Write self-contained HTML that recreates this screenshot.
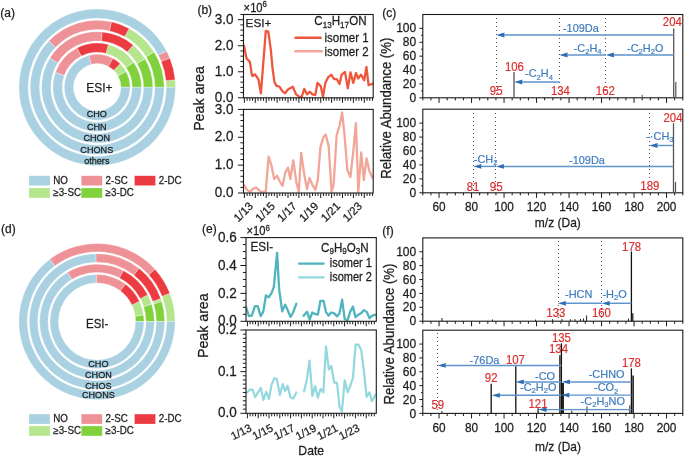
<!DOCTYPE html>
<html><head><meta charset="utf-8"><style>
html,body{margin:0;padding:0;background:#fff;}
svg{display:block;will-change:transform;}
text{font-family:"Liberation Sans", sans-serif;}
</style></head><body>
<svg width="685" height="456" viewBox="0 0 685 456">
<rect width="685" height="456" fill="#fff"/>
<text transform="translate(0.3,17.3)" font-size="12" text-anchor="start" fill="#1e1e1e" stroke="#1e1e1e" stroke-width="0.25">(a)</text>
<path d="M130.14 87.3A32.94 32.94 0 0 0 126.07 71.43L117.97 75.88A23.7 23.7 0 0 1 120.9 87.3Z" fill="#80d13c" stroke="#fff" stroke-width="0.3"/>
<path d="M126.07 71.43A32.94 32.94 0 0 0 120.21 63.73L113.75 70.34A23.7 23.7 0 0 1 117.97 75.88Z" fill="#b5e68e" stroke="#fff" stroke-width="0.3"/>
<path d="M120.21 63.73A32.94 32.94 0 0 0 112.77 58.27L108.4 66.41A23.7 23.7 0 0 1 113.75 70.34Z" fill="#ec3c42" stroke="#fff" stroke-width="0.3"/>
<path d="M112.77 58.27A32.94 32.94 0 0 0 88.79 55.45L91.15 64.39A23.7 23.7 0 0 1 108.4 66.41Z" fill="#ee9297" stroke="#fff" stroke-width="0.3"/>
<path d="M88.79 55.45A32.94 32.94 0 1 0 130.14 87.3L120.9 87.3A23.7 23.7 0 1 1 91.15 64.39Z" fill="#a9d1e2" stroke="#fff" stroke-width="0.3"/>
<path d="M141.48 87.3A44.28 44.28 0 0 0 133.65 62.16L126.04 67.4A35.04 35.04 0 0 1 132.24 87.3Z" fill="#80d13c" stroke="#fff" stroke-width="0.3"/>
<path d="M133.65 62.16A44.28 44.28 0 0 0 108.29 44.43L105.97 53.38A35.04 35.04 0 0 1 126.04 67.4Z" fill="#b5e68e" stroke="#fff" stroke-width="0.3"/>
<path d="M108.29 44.43A44.28 44.28 0 0 0 76.89 47.95L81.13 56.16A35.04 35.04 0 0 1 105.97 53.38Z" fill="#ec3c42" stroke="#fff" stroke-width="0.3"/>
<path d="M76.89 47.95A44.28 44.28 0 0 0 55.49 72.45L64.19 75.55A35.04 35.04 0 0 1 81.13 56.16Z" fill="#ee9297" stroke="#fff" stroke-width="0.3"/>
<path d="M55.49 72.45A44.28 44.28 0 1 0 141.48 87.3L132.24 87.3A35.04 35.04 0 1 1 64.19 75.55Z" fill="#a9d1e2" stroke="#fff" stroke-width="0.3"/>
<path d="M152.82 87.3A55.62 55.62 0 0 0 144.98 58.82L137.04 63.55A46.38 46.38 0 0 1 143.58 87.3Z" fill="#80d13c" stroke="#fff" stroke-width="0.3"/>
<path d="M144.98 58.82A55.62 55.62 0 0 0 133.25 44.94L127.26 51.98A46.38 46.38 0 0 1 137.04 63.55Z" fill="#b5e68e" stroke="#fff" stroke-width="0.3"/>
<path d="M133.25 44.94A55.62 55.62 0 0 0 102.05 31.89L101.24 41.1A46.38 46.38 0 0 1 127.26 51.98Z" fill="#ec3c42" stroke="#fff" stroke-width="0.3"/>
<path d="M102.05 31.89A55.62 55.62 0 0 0 49.83 58.16L57.7 63A46.38 46.38 0 0 1 101.24 41.1Z" fill="#ee9297" stroke="#fff" stroke-width="0.3"/>
<path d="M49.83 58.16A55.62 55.62 0 1 0 152.82 87.3L143.58 87.3A46.38 46.38 0 1 1 57.7 63Z" fill="#a9d1e2" stroke="#fff" stroke-width="0.3"/>
<path d="M164.16 87.3A66.96 66.96 0 0 0 154.05 51.92L146.2 56.8A57.72 57.72 0 0 1 154.92 87.3Z" fill="#80d13c" stroke="#fff" stroke-width="0.3"/>
<path d="M154.05 51.92A66.96 66.96 0 0 0 129.15 28.45L124.74 36.57A57.72 57.72 0 0 1 146.2 56.8Z" fill="#b5e68e" stroke="#fff" stroke-width="0.3"/>
<path d="M129.15 28.45A66.96 66.96 0 0 0 111.35 21.85L109.4 30.88A57.72 57.72 0 0 1 124.74 36.57Z" fill="#ec3c42" stroke="#fff" stroke-width="0.3"/>
<path d="M111.35 21.85A66.96 66.96 0 0 0 48.79 41.04L55.47 47.42A57.72 57.72 0 0 1 109.4 30.88Z" fill="#ee9297" stroke="#fff" stroke-width="0.3"/>
<path d="M48.79 41.04A66.96 66.96 0 1 0 164.16 87.3L154.92 87.3A57.72 57.72 0 1 1 55.47 47.42Z" fill="#a9d1e2" stroke="#fff" stroke-width="0.3"/>
<path d="M175.5 87.3A78.3 78.3 0 0 0 175.14 79.8L165.94 80.68A69.06 69.06 0 0 1 166.26 87.3Z" fill="#b5e68e" stroke="#fff" stroke-width="0.3"/>
<path d="M175.14 79.8A78.3 78.3 0 0 0 169.8 57.97L161.23 61.43A69.06 69.06 0 0 1 165.94 80.68Z" fill="#ec3c42" stroke="#fff" stroke-width="0.3"/>
<path d="M169.8 57.97A78.3 78.3 0 0 0 166.53 50.9L158.35 55.2A69.06 69.06 0 0 1 161.23 61.43Z" fill="#ee9297" stroke="#fff" stroke-width="0.3"/>
<path d="M166.53 50.9A78.3 78.3 0 1 0 175.5 87.3L166.26 87.3A69.06 69.06 0 1 1 158.35 55.2Z" fill="#a9d1e2" stroke="#fff" stroke-width="0.3"/>
<text transform="translate(96.8,117) scale(1,1.02)" font-size="9.1" text-anchor="middle" fill="#1e1e1e" stroke="#1e1e1e" stroke-width="0.25">CHO</text>
<text transform="translate(96.8,129.7) scale(1,1.02)" font-size="9.1" text-anchor="middle" fill="#1e1e1e" stroke="#1e1e1e" stroke-width="0.25">CHN</text>
<text transform="translate(96.8,141.1) scale(1,1.02)" font-size="9.1" text-anchor="middle" fill="#1e1e1e" stroke="#1e1e1e" stroke-width="0.25">CHON</text>
<text transform="translate(96.8,152.7) scale(1,1.02)" font-size="9.1" text-anchor="middle" fill="#1e1e1e" stroke="#1e1e1e" stroke-width="0.25">CHONS</text>
<text transform="translate(96.8,164.2) scale(1,1.02)" font-size="9.1" text-anchor="middle" fill="#1e1e1e" stroke="#1e1e1e" stroke-width="0.25">others</text>
<text transform="translate(99.4,91.9)" font-size="12" text-anchor="middle" fill="#1e1e1e" stroke="#1e1e1e" stroke-width="0.25">ESI+</text>
<rect x="29.1" y="175.8" width="20.8" height="9.7" fill="#a9d1e2"/>
<text transform="translate(53.3,183.9) scale(1,1.03)" font-size="9.8" text-anchor="start" fill="#1e1e1e" stroke="#1e1e1e" stroke-width="0.25">NO</text>
<rect x="81.4" y="175.8" width="20.8" height="9.7" fill="#ee9297"/>
<text transform="translate(105.6,183.9) scale(1,1.03)" font-size="9.8" text-anchor="start" fill="#1e1e1e" stroke="#1e1e1e" stroke-width="0.25">2-SC</text>
<rect x="134.6" y="175.8" width="20.8" height="9.7" fill="#ec3c42"/>
<text transform="translate(158.8,183.9) scale(1,1.03)" font-size="9.8" text-anchor="start" fill="#1e1e1e" stroke="#1e1e1e" stroke-width="0.25">2-DC</text>
<rect x="29.1" y="188.1" width="20.8" height="9.7" fill="#b5e68e"/>
<text transform="translate(53.3,196.2) scale(1,1.03)" font-size="9.8" text-anchor="start" fill="#1e1e1e" stroke="#1e1e1e" stroke-width="0.25">&#8805;3-SC</text>
<rect x="81.4" y="188.1" width="20.8" height="9.7" fill="#80d13c"/>
<text transform="translate(105.6,196.2) scale(1,1.03)" font-size="9.8" text-anchor="start" fill="#1e1e1e" stroke="#1e1e1e" stroke-width="0.25">&#8805;3-DC</text>
<text transform="translate(1,233.3)" font-size="12" text-anchor="start" fill="#1e1e1e" stroke="#1e1e1e" stroke-width="0.25">(d)</text>
<path d="M143.97 321.5A46.98 46.98 0 0 0 143.52 314.96L135.22 316.13A38.6 38.6 0 0 1 135.6 321.5Z" fill="#80d13c" stroke="#fff" stroke-width="0.3"/>
<path d="M143.52 314.96A46.98 46.98 0 0 0 139.43 301.35L131.87 304.94A38.6 38.6 0 0 1 135.22 316.13Z" fill="#b5e68e" stroke="#fff" stroke-width="0.3"/>
<path d="M139.43 301.35A46.98 46.98 0 0 0 125.4 284.08L120.34 290.75A38.6 38.6 0 0 1 131.87 304.94Z" fill="#ec3c42" stroke="#fff" stroke-width="0.3"/>
<path d="M125.4 284.08A46.98 46.98 0 0 0 96.18 274.53L96.33 282.91A38.6 38.6 0 0 1 120.34 290.75Z" fill="#ee9297" stroke="#fff" stroke-width="0.3"/>
<path d="M96.18 274.53A46.98 46.98 0 1 0 143.97 321.5L135.6 321.5A38.6 38.6 0 1 1 96.33 282.91Z" fill="#a9d1e2" stroke="#fff" stroke-width="0.3"/>
<path d="M154.35 321.5A57.35 57.35 0 0 0 151.67 304.16L143.68 306.69A48.98 48.98 0 0 1 145.97 321.5Z" fill="#80d13c" stroke="#fff" stroke-width="0.3"/>
<path d="M151.67 304.16A57.35 57.35 0 0 0 147.73 294.75L140.32 298.66A48.98 48.98 0 0 1 143.68 306.69Z" fill="#b5e68e" stroke="#fff" stroke-width="0.3"/>
<path d="M147.73 294.75A57.35 57.35 0 0 0 123.21 270.49L119.39 277.94A48.98 48.98 0 0 1 140.32 298.66Z" fill="#ec3c42" stroke="#fff" stroke-width="0.3"/>
<path d="M123.21 270.49A57.35 57.35 0 0 0 67.46 272.34L71.78 279.52A48.98 48.98 0 0 1 119.39 277.94Z" fill="#ee9297" stroke="#fff" stroke-width="0.3"/>
<path d="M67.46 272.34A57.35 57.35 0 1 0 154.35 321.5L145.97 321.5A48.98 48.98 0 1 1 71.78 279.52Z" fill="#a9d1e2" stroke="#fff" stroke-width="0.3"/>
<path d="M164.72 321.5A67.72 67.72 0 0 0 161.66 301.36L153.67 303.85A59.35 59.35 0 0 1 156.35 321.5Z" fill="#80d13c" stroke="#fff" stroke-width="0.3"/>
<path d="M161.66 301.36A67.72 67.72 0 0 0 160.72 298.56L152.84 301.4A59.35 59.35 0 0 1 153.67 303.85Z" fill="#b5e68e" stroke="#fff" stroke-width="0.3"/>
<path d="M160.72 298.56A67.72 67.72 0 0 0 138.97 268.35L133.78 274.92A59.35 59.35 0 0 1 152.84 301.4Z" fill="#ec3c42" stroke="#fff" stroke-width="0.3"/>
<path d="M138.97 268.35A67.72 67.72 0 0 0 95.82 253.79L95.96 262.16A59.35 59.35 0 0 1 133.78 274.92Z" fill="#ee9297" stroke="#fff" stroke-width="0.3"/>
<path d="M95.82 253.79A67.72 67.72 0 1 0 164.72 321.5L156.35 321.5A59.35 59.35 0 1 1 95.96 262.16Z" fill="#a9d1e2" stroke="#fff" stroke-width="0.3"/>
<path d="M175.1 321.5A78.1 78.1 0 0 0 169.81 293.26L162.01 296.29A69.72 69.72 0 0 1 166.72 321.5Z" fill="#b5e68e" stroke="#fff" stroke-width="0.3"/>
<path d="M169.81 293.26A78.1 78.1 0 0 0 154.95 269.14L148.73 274.75A69.72 69.72 0 0 1 162.01 296.29Z" fill="#ec3c42" stroke="#fff" stroke-width="0.3"/>
<path d="M154.95 269.14A78.1 78.1 0 0 0 49.78 259.29L54.84 265.96A69.72 69.72 0 0 1 148.73 274.75Z" fill="#ee9297" stroke="#fff" stroke-width="0.3"/>
<path d="M49.78 259.29A78.1 78.1 0 1 0 175.1 321.5L166.72 321.5A69.72 69.72 0 1 1 54.84 265.96Z" fill="#a9d1e2" stroke="#fff" stroke-width="0.3"/>
<text transform="translate(98.4,366.7) scale(1,1.02)" font-size="9.1" text-anchor="middle" fill="#1e1e1e" stroke="#1e1e1e" stroke-width="0.25">CHO</text>
<text transform="translate(98.4,377.6) scale(1,1.02)" font-size="9.1" text-anchor="middle" fill="#1e1e1e" stroke="#1e1e1e" stroke-width="0.25">CHON</text>
<text transform="translate(98.4,389.4) scale(1,1.02)" font-size="9.1" text-anchor="middle" fill="#1e1e1e" stroke="#1e1e1e" stroke-width="0.25">CHOS</text>
<text transform="translate(98.4,398) scale(1,1.02)" font-size="9.1" text-anchor="middle" fill="#1e1e1e" stroke="#1e1e1e" stroke-width="0.25">CHONS</text>
<text transform="translate(97.2,327.6) scale(1,1.1)" font-size="11.5" text-anchor="middle" fill="#1e1e1e" stroke="#1e1e1e" stroke-width="0.25">ESI-</text>
<rect x="29.1" y="414.2" width="20.8" height="9.7" fill="#a9d1e2"/>
<text transform="translate(53.3,422.3) scale(1,1.03)" font-size="9.8" text-anchor="start" fill="#1e1e1e" stroke="#1e1e1e" stroke-width="0.25">NO</text>
<rect x="81.4" y="414.2" width="20.8" height="9.7" fill="#ee9297"/>
<text transform="translate(105.6,422.3) scale(1,1.03)" font-size="9.8" text-anchor="start" fill="#1e1e1e" stroke="#1e1e1e" stroke-width="0.25">2-SC</text>
<rect x="134.6" y="414.2" width="20.8" height="9.7" fill="#ec3c42"/>
<text transform="translate(158.8,422.3) scale(1,1.03)" font-size="9.8" text-anchor="start" fill="#1e1e1e" stroke="#1e1e1e" stroke-width="0.25">2-DC</text>
<rect x="29.1" y="426.1" width="20.8" height="9.7" fill="#b5e68e"/>
<text transform="translate(53.3,434.2) scale(1,1.03)" font-size="9.8" text-anchor="start" fill="#1e1e1e" stroke="#1e1e1e" stroke-width="0.25">&#8805;3-SC</text>
<rect x="81.4" y="426.1" width="20.8" height="9.7" fill="#80d13c"/>
<text transform="translate(105.6,434.2) scale(1,1.03)" font-size="9.8" text-anchor="start" fill="#1e1e1e" stroke="#1e1e1e" stroke-width="0.25">&#8805;3-DC</text>
<text transform="translate(197.4,14)" font-size="12" text-anchor="start" fill="#1e1e1e" stroke="#1e1e1e" stroke-width="0.25">(b)</text>
<line x1="244.4" y1="97.8" x2="244.4" y2="102.8" stroke="#1a1a1a" stroke-width="1" />
<line x1="247.12" y1="97.8" x2="247.12" y2="100.8" stroke="#1a1a1a" stroke-width="1" />
<line x1="249.85" y1="97.8" x2="249.85" y2="100.8" stroke="#1a1a1a" stroke-width="1" />
<line x1="252.58" y1="97.8" x2="252.58" y2="100.8" stroke="#1a1a1a" stroke-width="1" />
<line x1="255.3" y1="97.8" x2="255.3" y2="102.8" stroke="#1a1a1a" stroke-width="1" />
<line x1="258.02" y1="97.8" x2="258.02" y2="100.8" stroke="#1a1a1a" stroke-width="1" />
<line x1="260.75" y1="97.8" x2="260.75" y2="100.8" stroke="#1a1a1a" stroke-width="1" />
<line x1="263.48" y1="97.8" x2="263.48" y2="100.8" stroke="#1a1a1a" stroke-width="1" />
<line x1="266.2" y1="97.8" x2="266.2" y2="102.8" stroke="#1a1a1a" stroke-width="1" />
<line x1="268.93" y1="97.8" x2="268.93" y2="100.8" stroke="#1a1a1a" stroke-width="1" />
<line x1="271.65" y1="97.8" x2="271.65" y2="100.8" stroke="#1a1a1a" stroke-width="1" />
<line x1="274.38" y1="97.8" x2="274.38" y2="100.8" stroke="#1a1a1a" stroke-width="1" />
<line x1="277.1" y1="97.8" x2="277.1" y2="102.8" stroke="#1a1a1a" stroke-width="1" />
<line x1="279.82" y1="97.8" x2="279.82" y2="100.8" stroke="#1a1a1a" stroke-width="1" />
<line x1="282.55" y1="97.8" x2="282.55" y2="100.8" stroke="#1a1a1a" stroke-width="1" />
<line x1="285.27" y1="97.8" x2="285.27" y2="100.8" stroke="#1a1a1a" stroke-width="1" />
<line x1="288" y1="97.8" x2="288" y2="102.8" stroke="#1a1a1a" stroke-width="1" />
<line x1="290.73" y1="97.8" x2="290.73" y2="100.8" stroke="#1a1a1a" stroke-width="1" />
<line x1="293.45" y1="97.8" x2="293.45" y2="100.8" stroke="#1a1a1a" stroke-width="1" />
<line x1="296.18" y1="97.8" x2="296.18" y2="100.8" stroke="#1a1a1a" stroke-width="1" />
<line x1="298.9" y1="97.8" x2="298.9" y2="102.8" stroke="#1a1a1a" stroke-width="1" />
<line x1="301.62" y1="97.8" x2="301.62" y2="100.8" stroke="#1a1a1a" stroke-width="1" />
<line x1="304.35" y1="97.8" x2="304.35" y2="100.8" stroke="#1a1a1a" stroke-width="1" />
<line x1="307.07" y1="97.8" x2="307.07" y2="100.8" stroke="#1a1a1a" stroke-width="1" />
<line x1="309.8" y1="97.8" x2="309.8" y2="102.8" stroke="#1a1a1a" stroke-width="1" />
<line x1="312.52" y1="97.8" x2="312.52" y2="100.8" stroke="#1a1a1a" stroke-width="1" />
<line x1="315.25" y1="97.8" x2="315.25" y2="100.8" stroke="#1a1a1a" stroke-width="1" />
<line x1="317.98" y1="97.8" x2="317.98" y2="100.8" stroke="#1a1a1a" stroke-width="1" />
<line x1="320.7" y1="97.8" x2="320.7" y2="102.8" stroke="#1a1a1a" stroke-width="1" />
<line x1="323.43" y1="97.8" x2="323.43" y2="100.8" stroke="#1a1a1a" stroke-width="1" />
<line x1="326.15" y1="97.8" x2="326.15" y2="100.8" stroke="#1a1a1a" stroke-width="1" />
<line x1="328.88" y1="97.8" x2="328.88" y2="100.8" stroke="#1a1a1a" stroke-width="1" />
<line x1="331.6" y1="97.8" x2="331.6" y2="102.8" stroke="#1a1a1a" stroke-width="1" />
<line x1="334.32" y1="97.8" x2="334.32" y2="100.8" stroke="#1a1a1a" stroke-width="1" />
<line x1="337.05" y1="97.8" x2="337.05" y2="100.8" stroke="#1a1a1a" stroke-width="1" />
<line x1="339.77" y1="97.8" x2="339.77" y2="100.8" stroke="#1a1a1a" stroke-width="1" />
<line x1="342.5" y1="97.8" x2="342.5" y2="102.8" stroke="#1a1a1a" stroke-width="1" />
<line x1="345.23" y1="97.8" x2="345.23" y2="100.8" stroke="#1a1a1a" stroke-width="1" />
<line x1="347.95" y1="97.8" x2="347.95" y2="100.8" stroke="#1a1a1a" stroke-width="1" />
<line x1="350.68" y1="97.8" x2="350.68" y2="100.8" stroke="#1a1a1a" stroke-width="1" />
<line x1="353.4" y1="97.8" x2="353.4" y2="102.8" stroke="#1a1a1a" stroke-width="1" />
<line x1="356.12" y1="97.8" x2="356.12" y2="100.8" stroke="#1a1a1a" stroke-width="1" />
<line x1="358.85" y1="97.8" x2="358.85" y2="100.8" stroke="#1a1a1a" stroke-width="1" />
<line x1="361.57" y1="97.8" x2="361.57" y2="100.8" stroke="#1a1a1a" stroke-width="1" />
<line x1="364.3" y1="97.8" x2="364.3" y2="102.8" stroke="#1a1a1a" stroke-width="1" />
<line x1="367.02" y1="97.8" x2="367.02" y2="100.8" stroke="#1a1a1a" stroke-width="1" />
<line x1="369.75" y1="97.8" x2="369.75" y2="100.8" stroke="#1a1a1a" stroke-width="1" />
<line x1="372.48" y1="97.8" x2="372.48" y2="100.8" stroke="#1a1a1a" stroke-width="1" />
<line x1="244.4" y1="193" x2="244.4" y2="198" stroke="#1a1a1a" stroke-width="1" />
<line x1="247.12" y1="193" x2="247.12" y2="196" stroke="#1a1a1a" stroke-width="1" />
<line x1="249.85" y1="193" x2="249.85" y2="196" stroke="#1a1a1a" stroke-width="1" />
<line x1="252.58" y1="193" x2="252.58" y2="196" stroke="#1a1a1a" stroke-width="1" />
<line x1="255.3" y1="193" x2="255.3" y2="198" stroke="#1a1a1a" stroke-width="1" />
<line x1="258.02" y1="193" x2="258.02" y2="196" stroke="#1a1a1a" stroke-width="1" />
<line x1="260.75" y1="193" x2="260.75" y2="196" stroke="#1a1a1a" stroke-width="1" />
<line x1="263.48" y1="193" x2="263.48" y2="196" stroke="#1a1a1a" stroke-width="1" />
<line x1="266.2" y1="193" x2="266.2" y2="198" stroke="#1a1a1a" stroke-width="1" />
<line x1="268.93" y1="193" x2="268.93" y2="196" stroke="#1a1a1a" stroke-width="1" />
<line x1="271.65" y1="193" x2="271.65" y2="196" stroke="#1a1a1a" stroke-width="1" />
<line x1="274.38" y1="193" x2="274.38" y2="196" stroke="#1a1a1a" stroke-width="1" />
<line x1="277.1" y1="193" x2="277.1" y2="198" stroke="#1a1a1a" stroke-width="1" />
<line x1="279.82" y1="193" x2="279.82" y2="196" stroke="#1a1a1a" stroke-width="1" />
<line x1="282.55" y1="193" x2="282.55" y2="196" stroke="#1a1a1a" stroke-width="1" />
<line x1="285.27" y1="193" x2="285.27" y2="196" stroke="#1a1a1a" stroke-width="1" />
<line x1="288" y1="193" x2="288" y2="198" stroke="#1a1a1a" stroke-width="1" />
<line x1="290.73" y1="193" x2="290.73" y2="196" stroke="#1a1a1a" stroke-width="1" />
<line x1="293.45" y1="193" x2="293.45" y2="196" stroke="#1a1a1a" stroke-width="1" />
<line x1="296.18" y1="193" x2="296.18" y2="196" stroke="#1a1a1a" stroke-width="1" />
<line x1="298.9" y1="193" x2="298.9" y2="198" stroke="#1a1a1a" stroke-width="1" />
<line x1="301.62" y1="193" x2="301.62" y2="196" stroke="#1a1a1a" stroke-width="1" />
<line x1="304.35" y1="193" x2="304.35" y2="196" stroke="#1a1a1a" stroke-width="1" />
<line x1="307.07" y1="193" x2="307.07" y2="196" stroke="#1a1a1a" stroke-width="1" />
<line x1="309.8" y1="193" x2="309.8" y2="198" stroke="#1a1a1a" stroke-width="1" />
<line x1="312.52" y1="193" x2="312.52" y2="196" stroke="#1a1a1a" stroke-width="1" />
<line x1="315.25" y1="193" x2="315.25" y2="196" stroke="#1a1a1a" stroke-width="1" />
<line x1="317.98" y1="193" x2="317.98" y2="196" stroke="#1a1a1a" stroke-width="1" />
<line x1="320.7" y1="193" x2="320.7" y2="198" stroke="#1a1a1a" stroke-width="1" />
<line x1="323.43" y1="193" x2="323.43" y2="196" stroke="#1a1a1a" stroke-width="1" />
<line x1="326.15" y1="193" x2="326.15" y2="196" stroke="#1a1a1a" stroke-width="1" />
<line x1="328.88" y1="193" x2="328.88" y2="196" stroke="#1a1a1a" stroke-width="1" />
<line x1="331.6" y1="193" x2="331.6" y2="198" stroke="#1a1a1a" stroke-width="1" />
<line x1="334.32" y1="193" x2="334.32" y2="196" stroke="#1a1a1a" stroke-width="1" />
<line x1="337.05" y1="193" x2="337.05" y2="196" stroke="#1a1a1a" stroke-width="1" />
<line x1="339.77" y1="193" x2="339.77" y2="196" stroke="#1a1a1a" stroke-width="1" />
<line x1="342.5" y1="193" x2="342.5" y2="198" stroke="#1a1a1a" stroke-width="1" />
<line x1="345.23" y1="193" x2="345.23" y2="196" stroke="#1a1a1a" stroke-width="1" />
<line x1="347.95" y1="193" x2="347.95" y2="196" stroke="#1a1a1a" stroke-width="1" />
<line x1="350.68" y1="193" x2="350.68" y2="196" stroke="#1a1a1a" stroke-width="1" />
<line x1="353.4" y1="193" x2="353.4" y2="198" stroke="#1a1a1a" stroke-width="1" />
<line x1="356.12" y1="193" x2="356.12" y2="196" stroke="#1a1a1a" stroke-width="1" />
<line x1="358.85" y1="193" x2="358.85" y2="196" stroke="#1a1a1a" stroke-width="1" />
<line x1="361.57" y1="193" x2="361.57" y2="196" stroke="#1a1a1a" stroke-width="1" />
<line x1="364.3" y1="193" x2="364.3" y2="198" stroke="#1a1a1a" stroke-width="1" />
<line x1="367.02" y1="193" x2="367.02" y2="196" stroke="#1a1a1a" stroke-width="1" />
<line x1="369.75" y1="193" x2="369.75" y2="196" stroke="#1a1a1a" stroke-width="1" />
<line x1="372.48" y1="193" x2="372.48" y2="196" stroke="#1a1a1a" stroke-width="1" />
<line x1="240.4" y1="92.59" x2="243.5" y2="92.59" stroke="#1a1a1a" stroke-width="1" />
<line x1="240.4" y1="87.39" x2="243.5" y2="87.39" stroke="#1a1a1a" stroke-width="1" />
<line x1="240.4" y1="82.18" x2="243.5" y2="82.18" stroke="#1a1a1a" stroke-width="1" />
<line x1="240.4" y1="76.97" x2="243.5" y2="76.97" stroke="#1a1a1a" stroke-width="1" />
<line x1="240.4" y1="66.56" x2="243.5" y2="66.56" stroke="#1a1a1a" stroke-width="1" />
<line x1="240.4" y1="61.36" x2="243.5" y2="61.36" stroke="#1a1a1a" stroke-width="1" />
<line x1="240.4" y1="56.15" x2="243.5" y2="56.15" stroke="#1a1a1a" stroke-width="1" />
<line x1="240.4" y1="50.94" x2="243.5" y2="50.94" stroke="#1a1a1a" stroke-width="1" />
<line x1="240.4" y1="40.53" x2="243.5" y2="40.53" stroke="#1a1a1a" stroke-width="1" />
<line x1="240.4" y1="35.33" x2="243.5" y2="35.33" stroke="#1a1a1a" stroke-width="1" />
<line x1="240.4" y1="30.12" x2="243.5" y2="30.12" stroke="#1a1a1a" stroke-width="1" />
<line x1="240.4" y1="24.91" x2="243.5" y2="24.91" stroke="#1a1a1a" stroke-width="1" />
<line x1="240.4" y1="14.5" x2="243.5" y2="14.5" stroke="#1a1a1a" stroke-width="1" />
<line x1="237.9" y1="97.8" x2="243.5" y2="97.8" stroke="#1a1a1a" stroke-width="1" />
<text transform="translate(233.6,101.9) scale(1,1.05)" font-size="13.5" text-anchor="end" fill="#1e1e1e" stroke="#1e1e1e" stroke-width="0.25">0.0</text>
<line x1="237.9" y1="71.77" x2="243.5" y2="71.77" stroke="#1a1a1a" stroke-width="1" />
<text transform="translate(233.6,75.87) scale(1,1.05)" font-size="13.5" text-anchor="end" fill="#1e1e1e" stroke="#1e1e1e" stroke-width="0.25">1.0</text>
<line x1="237.9" y1="45.74" x2="243.5" y2="45.74" stroke="#1a1a1a" stroke-width="1" />
<text transform="translate(233.6,49.84) scale(1,1.05)" font-size="13.5" text-anchor="end" fill="#1e1e1e" stroke="#1e1e1e" stroke-width="0.25">2.0</text>
<line x1="237.9" y1="19.71" x2="243.5" y2="19.71" stroke="#1a1a1a" stroke-width="1" />
<text transform="translate(233.6,23.81) scale(1,1.05)" font-size="13.5" text-anchor="end" fill="#1e1e1e" stroke="#1e1e1e" stroke-width="0.25">3.0</text>
<line x1="240.4" y1="187.43" x2="243.5" y2="187.43" stroke="#1a1a1a" stroke-width="1" />
<line x1="240.4" y1="181.85" x2="243.5" y2="181.85" stroke="#1a1a1a" stroke-width="1" />
<line x1="240.4" y1="176.28" x2="243.5" y2="176.28" stroke="#1a1a1a" stroke-width="1" />
<line x1="240.4" y1="170.71" x2="243.5" y2="170.71" stroke="#1a1a1a" stroke-width="1" />
<line x1="240.4" y1="159.56" x2="243.5" y2="159.56" stroke="#1a1a1a" stroke-width="1" />
<line x1="240.4" y1="153.99" x2="243.5" y2="153.99" stroke="#1a1a1a" stroke-width="1" />
<line x1="240.4" y1="148.41" x2="243.5" y2="148.41" stroke="#1a1a1a" stroke-width="1" />
<line x1="240.4" y1="142.84" x2="243.5" y2="142.84" stroke="#1a1a1a" stroke-width="1" />
<line x1="240.4" y1="131.69" x2="243.5" y2="131.69" stroke="#1a1a1a" stroke-width="1" />
<line x1="240.4" y1="126.12" x2="243.5" y2="126.12" stroke="#1a1a1a" stroke-width="1" />
<line x1="240.4" y1="120.55" x2="243.5" y2="120.55" stroke="#1a1a1a" stroke-width="1" />
<line x1="240.4" y1="114.97" x2="243.5" y2="114.97" stroke="#1a1a1a" stroke-width="1" />
<line x1="237.9" y1="193" x2="243.5" y2="193" stroke="#1a1a1a" stroke-width="1" />
<text transform="translate(233.6,197.1) scale(1,1.05)" font-size="13.5" text-anchor="end" fill="#1e1e1e" stroke="#1e1e1e" stroke-width="0.25">0.0</text>
<line x1="237.9" y1="165.13" x2="243.5" y2="165.13" stroke="#1a1a1a" stroke-width="1" />
<text transform="translate(233.6,169.23) scale(1,1.05)" font-size="13.5" text-anchor="end" fill="#1e1e1e" stroke="#1e1e1e" stroke-width="0.25">1.0</text>
<line x1="237.9" y1="137.27" x2="243.5" y2="137.27" stroke="#1a1a1a" stroke-width="1" />
<text transform="translate(233.6,141.37) scale(1,1.05)" font-size="13.5" text-anchor="end" fill="#1e1e1e" stroke="#1e1e1e" stroke-width="0.25">2.0</text>
<line x1="237.9" y1="109.4" x2="243.5" y2="109.4" stroke="#1a1a1a" stroke-width="1" />
<text transform="translate(233.6,113.5) scale(1,1.05)" font-size="13.5" text-anchor="end" fill="#1e1e1e" stroke="#1e1e1e" stroke-width="0.25">3.0</text>
<clipPath id="cb1"><rect x="243.5" y="14.5" width="129.7" height="84.3"/></clipPath>
<clipPath id="cb2"><rect x="243.5" y="109.4" width="129.7" height="84.6"/></clipPath>
<g clip-path="url(#cb1)">
<polyline points="244,45.6 246.6,58.7 248.6,60.4 249.9,62 251.9,75.2 252.7,76 254.8,74.3 257.1,77.3 258.4,79.3 260.9,93.3 265.8,30.8 268.3,31.6 270.8,49.7 272.5,68 274.4,81.7 276.5,85.9 279.3,86.5 282.4,91.1 285.1,93.3 287.9,89.5 292.8,86.7 296.1,94.4 299.9,97.1 301.6,97.1 304.3,88.9 307.1,94.4 309.8,91.7 312.5,94.4 315.3,95 317.5,82.9 320.8,86.2 323,97.1 325.3,82.9 328,77.4 331.3,74.7 334.1,79.1 336.8,79.1 339.5,84 341.7,74.7 345,71.9 347.8,88.4 350.5,72.5 353.3,82.9 356,73 358.2,78.5 360.9,74.7 364.2,80.2 366.4,67 368.6,85.1 371.9,84 373,84" fill="none" stroke="#ef573c" stroke-width="2.3" stroke-linejoin="round" stroke-linecap="round"/>
</g>
<g clip-path="url(#cb2)">
<polyline points="244,184.9 246.9,189.9 249.9,191.8 252.9,188.9 255.8,187.5 258.8,189.9 260.7,191.8 265.7,191.8 268.6,156.7 271.6,166.2 274.2,179 277.1,175.7 279.5,181 282.5,185.9 285.4,172.1 288,167.8 290.4,179 293.3,160.3 296.3,182 298.8,191.8 301.2,152.8 304.2,174.1 307,189 309.5,178 312.5,185 315.3,189.9 317.8,180 320.4,147.4 323.2,137.6 325.7,134.6 328.7,146.4 331.6,191.8 333.6,184.9 336.6,135.6 339.5,125.7 342.1,112.5 344.5,134.6 347.4,170.1 350.4,177 353.4,150.4 355.9,123.2 358.3,191.8 361.2,152.4 363.8,180 366.6,158.3 369.1,170.1 372.1,177 373,178" fill="none" stroke="#f1a697" stroke-width="2.3" stroke-linejoin="round" stroke-linecap="round"/>
</g>
<rect x="243.5" y="14.5" width="129.7" height="83.3" fill="none" stroke="#1a1a1a" stroke-width="1.1"/>
<rect x="243.5" y="109.4" width="129.7" height="83.6" fill="none" stroke="#1a1a1a" stroke-width="1.1"/>
<text transform="translate(245.6,26.6)" font-size="11.7" text-anchor="start" fill="#1e1e1e" stroke="#1e1e1e" stroke-width="0.25">ESI+</text>
<text transform="translate(366.5,25.3) scale(1,1.05)" font-size="11.6" text-anchor="end" fill="#1e1e1e" stroke="#1e1e1e" stroke-width="0.25">C<tspan font-size="8.12" dy="2.55">13</tspan><tspan dy="-2.55">H</tspan><tspan font-size="8.12" dy="2.55">17</tspan><tspan dy="-2.55">ON</tspan></text>
<line x1="295.5" y1="37.8" x2="320.6" y2="37.8" stroke="#ef573c" stroke-width="2.5" stroke-linecap="round"/>
<line x1="295.5" y1="51.3" x2="321.6" y2="51.3" stroke="#f1a697" stroke-width="2.5" stroke-linecap="round"/>
<text transform="translate(324.5,41.6) scale(1,1.05)" font-size="11.5" text-anchor="start" fill="#1e1e1e" stroke="#1e1e1e" stroke-width="0.25">isomer 1</text>
<text transform="translate(324.5,55.7) scale(1,1.05)" font-size="11.5" text-anchor="start" fill="#1e1e1e" stroke="#1e1e1e" stroke-width="0.25">isomer 2</text>
<text transform="translate(243.6,11.7) scale(1,1.1)" font-size="11.2" text-anchor="start" fill="#1e1e1e" stroke="#1e1e1e" stroke-width="0.25">&#215;10<tspan font-size="8" dy="-4.4">6</tspan></text>
<text transform="translate(203.6,98.5) rotate(-90) scale(1,1.06)" font-size="14.2" text-anchor="middle" fill="#1e1e1e" stroke="#1e1e1e" stroke-width="0.25">Peak area</text>
<text transform="translate(253.8,206.9) rotate(-45)" font-size="11.3" text-anchor="end" fill="#1e1e1e" stroke="#1e1e1e" stroke-width="0.25">1/13</text>
<text transform="translate(275.6,206.9) rotate(-45)" font-size="11.3" text-anchor="end" fill="#1e1e1e" stroke="#1e1e1e" stroke-width="0.25">1/15</text>
<text transform="translate(297.4,206.9) rotate(-45)" font-size="11.3" text-anchor="end" fill="#1e1e1e" stroke="#1e1e1e" stroke-width="0.25">1/17</text>
<text transform="translate(319.2,206.9) rotate(-45)" font-size="11.3" text-anchor="end" fill="#1e1e1e" stroke="#1e1e1e" stroke-width="0.25">1/19</text>
<text transform="translate(341,206.9) rotate(-45)" font-size="11.3" text-anchor="end" fill="#1e1e1e" stroke="#1e1e1e" stroke-width="0.25">1/21</text>
<text transform="translate(362.8,206.9) rotate(-45)" font-size="11.3" text-anchor="end" fill="#1e1e1e" stroke="#1e1e1e" stroke-width="0.25">1/23</text>
<text transform="translate(202,232.8)" font-size="12" text-anchor="start" fill="#1e1e1e" stroke="#1e1e1e" stroke-width="0.25">(e)</text>
<line x1="247.4" y1="321.3" x2="247.4" y2="326.3" stroke="#1a1a1a" stroke-width="1" />
<line x1="250.1" y1="321.3" x2="250.1" y2="324.3" stroke="#1a1a1a" stroke-width="1" />
<line x1="252.8" y1="321.3" x2="252.8" y2="324.3" stroke="#1a1a1a" stroke-width="1" />
<line x1="255.5" y1="321.3" x2="255.5" y2="324.3" stroke="#1a1a1a" stroke-width="1" />
<line x1="258.2" y1="321.3" x2="258.2" y2="326.3" stroke="#1a1a1a" stroke-width="1" />
<line x1="260.9" y1="321.3" x2="260.9" y2="324.3" stroke="#1a1a1a" stroke-width="1" />
<line x1="263.6" y1="321.3" x2="263.6" y2="324.3" stroke="#1a1a1a" stroke-width="1" />
<line x1="266.3" y1="321.3" x2="266.3" y2="324.3" stroke="#1a1a1a" stroke-width="1" />
<line x1="269" y1="321.3" x2="269" y2="326.3" stroke="#1a1a1a" stroke-width="1" />
<line x1="271.7" y1="321.3" x2="271.7" y2="324.3" stroke="#1a1a1a" stroke-width="1" />
<line x1="274.4" y1="321.3" x2="274.4" y2="324.3" stroke="#1a1a1a" stroke-width="1" />
<line x1="277.1" y1="321.3" x2="277.1" y2="324.3" stroke="#1a1a1a" stroke-width="1" />
<line x1="279.8" y1="321.3" x2="279.8" y2="326.3" stroke="#1a1a1a" stroke-width="1" />
<line x1="282.5" y1="321.3" x2="282.5" y2="324.3" stroke="#1a1a1a" stroke-width="1" />
<line x1="285.2" y1="321.3" x2="285.2" y2="324.3" stroke="#1a1a1a" stroke-width="1" />
<line x1="287.9" y1="321.3" x2="287.9" y2="324.3" stroke="#1a1a1a" stroke-width="1" />
<line x1="290.6" y1="321.3" x2="290.6" y2="326.3" stroke="#1a1a1a" stroke-width="1" />
<line x1="293.3" y1="321.3" x2="293.3" y2="324.3" stroke="#1a1a1a" stroke-width="1" />
<line x1="296" y1="321.3" x2="296" y2="324.3" stroke="#1a1a1a" stroke-width="1" />
<line x1="298.7" y1="321.3" x2="298.7" y2="324.3" stroke="#1a1a1a" stroke-width="1" />
<line x1="301.4" y1="321.3" x2="301.4" y2="326.3" stroke="#1a1a1a" stroke-width="1" />
<line x1="304.1" y1="321.3" x2="304.1" y2="324.3" stroke="#1a1a1a" stroke-width="1" />
<line x1="306.8" y1="321.3" x2="306.8" y2="324.3" stroke="#1a1a1a" stroke-width="1" />
<line x1="309.5" y1="321.3" x2="309.5" y2="324.3" stroke="#1a1a1a" stroke-width="1" />
<line x1="312.2" y1="321.3" x2="312.2" y2="326.3" stroke="#1a1a1a" stroke-width="1" />
<line x1="314.9" y1="321.3" x2="314.9" y2="324.3" stroke="#1a1a1a" stroke-width="1" />
<line x1="317.6" y1="321.3" x2="317.6" y2="324.3" stroke="#1a1a1a" stroke-width="1" />
<line x1="320.3" y1="321.3" x2="320.3" y2="324.3" stroke="#1a1a1a" stroke-width="1" />
<line x1="323" y1="321.3" x2="323" y2="326.3" stroke="#1a1a1a" stroke-width="1" />
<line x1="325.7" y1="321.3" x2="325.7" y2="324.3" stroke="#1a1a1a" stroke-width="1" />
<line x1="328.4" y1="321.3" x2="328.4" y2="324.3" stroke="#1a1a1a" stroke-width="1" />
<line x1="331.1" y1="321.3" x2="331.1" y2="324.3" stroke="#1a1a1a" stroke-width="1" />
<line x1="333.8" y1="321.3" x2="333.8" y2="326.3" stroke="#1a1a1a" stroke-width="1" />
<line x1="336.5" y1="321.3" x2="336.5" y2="324.3" stroke="#1a1a1a" stroke-width="1" />
<line x1="339.2" y1="321.3" x2="339.2" y2="324.3" stroke="#1a1a1a" stroke-width="1" />
<line x1="341.9" y1="321.3" x2="341.9" y2="324.3" stroke="#1a1a1a" stroke-width="1" />
<line x1="344.6" y1="321.3" x2="344.6" y2="326.3" stroke="#1a1a1a" stroke-width="1" />
<line x1="347.3" y1="321.3" x2="347.3" y2="324.3" stroke="#1a1a1a" stroke-width="1" />
<line x1="350" y1="321.3" x2="350" y2="324.3" stroke="#1a1a1a" stroke-width="1" />
<line x1="352.7" y1="321.3" x2="352.7" y2="324.3" stroke="#1a1a1a" stroke-width="1" />
<line x1="355.4" y1="321.3" x2="355.4" y2="326.3" stroke="#1a1a1a" stroke-width="1" />
<line x1="358.1" y1="321.3" x2="358.1" y2="324.3" stroke="#1a1a1a" stroke-width="1" />
<line x1="360.8" y1="321.3" x2="360.8" y2="324.3" stroke="#1a1a1a" stroke-width="1" />
<line x1="363.5" y1="321.3" x2="363.5" y2="324.3" stroke="#1a1a1a" stroke-width="1" />
<line x1="366.2" y1="321.3" x2="366.2" y2="326.3" stroke="#1a1a1a" stroke-width="1" />
<line x1="368.9" y1="321.3" x2="368.9" y2="324.3" stroke="#1a1a1a" stroke-width="1" />
<line x1="371.6" y1="321.3" x2="371.6" y2="324.3" stroke="#1a1a1a" stroke-width="1" />
<line x1="374.3" y1="321.3" x2="374.3" y2="324.3" stroke="#1a1a1a" stroke-width="1" />
<line x1="247.4" y1="413.3" x2="247.4" y2="418.3" stroke="#1a1a1a" stroke-width="1" />
<line x1="250.1" y1="413.3" x2="250.1" y2="416.3" stroke="#1a1a1a" stroke-width="1" />
<line x1="252.8" y1="413.3" x2="252.8" y2="416.3" stroke="#1a1a1a" stroke-width="1" />
<line x1="255.5" y1="413.3" x2="255.5" y2="416.3" stroke="#1a1a1a" stroke-width="1" />
<line x1="258.2" y1="413.3" x2="258.2" y2="418.3" stroke="#1a1a1a" stroke-width="1" />
<line x1="260.9" y1="413.3" x2="260.9" y2="416.3" stroke="#1a1a1a" stroke-width="1" />
<line x1="263.6" y1="413.3" x2="263.6" y2="416.3" stroke="#1a1a1a" stroke-width="1" />
<line x1="266.3" y1="413.3" x2="266.3" y2="416.3" stroke="#1a1a1a" stroke-width="1" />
<line x1="269" y1="413.3" x2="269" y2="418.3" stroke="#1a1a1a" stroke-width="1" />
<line x1="271.7" y1="413.3" x2="271.7" y2="416.3" stroke="#1a1a1a" stroke-width="1" />
<line x1="274.4" y1="413.3" x2="274.4" y2="416.3" stroke="#1a1a1a" stroke-width="1" />
<line x1="277.1" y1="413.3" x2="277.1" y2="416.3" stroke="#1a1a1a" stroke-width="1" />
<line x1="279.8" y1="413.3" x2="279.8" y2="418.3" stroke="#1a1a1a" stroke-width="1" />
<line x1="282.5" y1="413.3" x2="282.5" y2="416.3" stroke="#1a1a1a" stroke-width="1" />
<line x1="285.2" y1="413.3" x2="285.2" y2="416.3" stroke="#1a1a1a" stroke-width="1" />
<line x1="287.9" y1="413.3" x2="287.9" y2="416.3" stroke="#1a1a1a" stroke-width="1" />
<line x1="290.6" y1="413.3" x2="290.6" y2="418.3" stroke="#1a1a1a" stroke-width="1" />
<line x1="293.3" y1="413.3" x2="293.3" y2="416.3" stroke="#1a1a1a" stroke-width="1" />
<line x1="296" y1="413.3" x2="296" y2="416.3" stroke="#1a1a1a" stroke-width="1" />
<line x1="298.7" y1="413.3" x2="298.7" y2="416.3" stroke="#1a1a1a" stroke-width="1" />
<line x1="301.4" y1="413.3" x2="301.4" y2="418.3" stroke="#1a1a1a" stroke-width="1" />
<line x1="304.1" y1="413.3" x2="304.1" y2="416.3" stroke="#1a1a1a" stroke-width="1" />
<line x1="306.8" y1="413.3" x2="306.8" y2="416.3" stroke="#1a1a1a" stroke-width="1" />
<line x1="309.5" y1="413.3" x2="309.5" y2="416.3" stroke="#1a1a1a" stroke-width="1" />
<line x1="312.2" y1="413.3" x2="312.2" y2="418.3" stroke="#1a1a1a" stroke-width="1" />
<line x1="314.9" y1="413.3" x2="314.9" y2="416.3" stroke="#1a1a1a" stroke-width="1" />
<line x1="317.6" y1="413.3" x2="317.6" y2="416.3" stroke="#1a1a1a" stroke-width="1" />
<line x1="320.3" y1="413.3" x2="320.3" y2="416.3" stroke="#1a1a1a" stroke-width="1" />
<line x1="323" y1="413.3" x2="323" y2="418.3" stroke="#1a1a1a" stroke-width="1" />
<line x1="325.7" y1="413.3" x2="325.7" y2="416.3" stroke="#1a1a1a" stroke-width="1" />
<line x1="328.4" y1="413.3" x2="328.4" y2="416.3" stroke="#1a1a1a" stroke-width="1" />
<line x1="331.1" y1="413.3" x2="331.1" y2="416.3" stroke="#1a1a1a" stroke-width="1" />
<line x1="333.8" y1="413.3" x2="333.8" y2="418.3" stroke="#1a1a1a" stroke-width="1" />
<line x1="336.5" y1="413.3" x2="336.5" y2="416.3" stroke="#1a1a1a" stroke-width="1" />
<line x1="339.2" y1="413.3" x2="339.2" y2="416.3" stroke="#1a1a1a" stroke-width="1" />
<line x1="341.9" y1="413.3" x2="341.9" y2="416.3" stroke="#1a1a1a" stroke-width="1" />
<line x1="344.6" y1="413.3" x2="344.6" y2="418.3" stroke="#1a1a1a" stroke-width="1" />
<line x1="347.3" y1="413.3" x2="347.3" y2="416.3" stroke="#1a1a1a" stroke-width="1" />
<line x1="350" y1="413.3" x2="350" y2="416.3" stroke="#1a1a1a" stroke-width="1" />
<line x1="352.7" y1="413.3" x2="352.7" y2="416.3" stroke="#1a1a1a" stroke-width="1" />
<line x1="355.4" y1="413.3" x2="355.4" y2="418.3" stroke="#1a1a1a" stroke-width="1" />
<line x1="358.1" y1="413.3" x2="358.1" y2="416.3" stroke="#1a1a1a" stroke-width="1" />
<line x1="360.8" y1="413.3" x2="360.8" y2="416.3" stroke="#1a1a1a" stroke-width="1" />
<line x1="363.5" y1="413.3" x2="363.5" y2="416.3" stroke="#1a1a1a" stroke-width="1" />
<line x1="366.2" y1="413.3" x2="366.2" y2="418.3" stroke="#1a1a1a" stroke-width="1" />
<line x1="368.9" y1="413.3" x2="368.9" y2="416.3" stroke="#1a1a1a" stroke-width="1" />
<line x1="371.6" y1="413.3" x2="371.6" y2="416.3" stroke="#1a1a1a" stroke-width="1" />
<line x1="374.3" y1="413.3" x2="374.3" y2="416.3" stroke="#1a1a1a" stroke-width="1" />
<line x1="242.9" y1="314.32" x2="246" y2="314.32" stroke="#1a1a1a" stroke-width="1" />
<line x1="242.9" y1="307.35" x2="246" y2="307.35" stroke="#1a1a1a" stroke-width="1" />
<line x1="242.9" y1="300.38" x2="246" y2="300.38" stroke="#1a1a1a" stroke-width="1" />
<line x1="242.9" y1="286.43" x2="246" y2="286.43" stroke="#1a1a1a" stroke-width="1" />
<line x1="242.9" y1="279.45" x2="246" y2="279.45" stroke="#1a1a1a" stroke-width="1" />
<line x1="242.9" y1="272.48" x2="246" y2="272.48" stroke="#1a1a1a" stroke-width="1" />
<line x1="242.9" y1="258.52" x2="246" y2="258.52" stroke="#1a1a1a" stroke-width="1" />
<line x1="242.9" y1="251.55" x2="246" y2="251.55" stroke="#1a1a1a" stroke-width="1" />
<line x1="242.9" y1="244.57" x2="246" y2="244.57" stroke="#1a1a1a" stroke-width="1" />
<line x1="240.4" y1="321.3" x2="246" y2="321.3" stroke="#1a1a1a" stroke-width="1" />
<text transform="translate(236.8,325.4) scale(1,1.05)" font-size="13.5" text-anchor="end" fill="#1e1e1e" stroke="#1e1e1e" stroke-width="0.25">0.0</text>
<line x1="240.4" y1="293.4" x2="246" y2="293.4" stroke="#1a1a1a" stroke-width="1" />
<text transform="translate(236.8,297.5) scale(1,1.05)" font-size="13.5" text-anchor="end" fill="#1e1e1e" stroke="#1e1e1e" stroke-width="0.25">0.2</text>
<line x1="240.4" y1="265.5" x2="246" y2="265.5" stroke="#1a1a1a" stroke-width="1" />
<text transform="translate(236.8,269.6) scale(1,1.05)" font-size="13.5" text-anchor="end" fill="#1e1e1e" stroke="#1e1e1e" stroke-width="0.25">0.4</text>
<line x1="240.4" y1="237.6" x2="246" y2="237.6" stroke="#1a1a1a" stroke-width="1" />
<text transform="translate(236.8,241.7) scale(1,1.05)" font-size="13.5" text-anchor="end" fill="#1e1e1e" stroke="#1e1e1e" stroke-width="0.25">0.6</text>
<line x1="242.9" y1="409.13" x2="246" y2="409.13" stroke="#1a1a1a" stroke-width="1" />
<line x1="242.9" y1="404.97" x2="246" y2="404.97" stroke="#1a1a1a" stroke-width="1" />
<line x1="242.9" y1="400.81" x2="246" y2="400.81" stroke="#1a1a1a" stroke-width="1" />
<line x1="242.9" y1="396.64" x2="246" y2="396.64" stroke="#1a1a1a" stroke-width="1" />
<line x1="242.9" y1="392.48" x2="246" y2="392.48" stroke="#1a1a1a" stroke-width="1" />
<line x1="242.9" y1="388.31" x2="246" y2="388.31" stroke="#1a1a1a" stroke-width="1" />
<line x1="242.9" y1="384.14" x2="246" y2="384.14" stroke="#1a1a1a" stroke-width="1" />
<line x1="242.9" y1="379.98" x2="246" y2="379.98" stroke="#1a1a1a" stroke-width="1" />
<line x1="242.9" y1="375.81" x2="246" y2="375.81" stroke="#1a1a1a" stroke-width="1" />
<line x1="242.9" y1="367.49" x2="246" y2="367.49" stroke="#1a1a1a" stroke-width="1" />
<line x1="242.9" y1="363.32" x2="246" y2="363.32" stroke="#1a1a1a" stroke-width="1" />
<line x1="242.9" y1="359.15" x2="246" y2="359.15" stroke="#1a1a1a" stroke-width="1" />
<line x1="242.9" y1="354.99" x2="246" y2="354.99" stroke="#1a1a1a" stroke-width="1" />
<line x1="242.9" y1="350.82" x2="246" y2="350.82" stroke="#1a1a1a" stroke-width="1" />
<line x1="242.9" y1="346.66" x2="246" y2="346.66" stroke="#1a1a1a" stroke-width="1" />
<line x1="242.9" y1="342.5" x2="246" y2="342.5" stroke="#1a1a1a" stroke-width="1" />
<line x1="242.9" y1="338.33" x2="246" y2="338.33" stroke="#1a1a1a" stroke-width="1" />
<line x1="242.9" y1="334.17" x2="246" y2="334.17" stroke="#1a1a1a" stroke-width="1" />
<line x1="240.4" y1="413.3" x2="246" y2="413.3" stroke="#1a1a1a" stroke-width="1" />
<text transform="translate(236.8,417.4) scale(1,1.05)" font-size="13.5" text-anchor="end" fill="#1e1e1e" stroke="#1e1e1e" stroke-width="0.25">0.0</text>
<line x1="240.4" y1="371.65" x2="246" y2="371.65" stroke="#1a1a1a" stroke-width="1" />
<text transform="translate(236.8,375.75) scale(1,1.05)" font-size="13.5" text-anchor="end" fill="#1e1e1e" stroke="#1e1e1e" stroke-width="0.25">0.1</text>
<line x1="240.4" y1="330" x2="246" y2="330" stroke="#1a1a1a" stroke-width="1" />
<text transform="translate(236.8,334.1) scale(1,1.05)" font-size="13.5" text-anchor="end" fill="#1e1e1e" stroke="#1e1e1e" stroke-width="0.25">0.2</text>
<clipPath id="ce1"><rect x="246.0" y="237.6" width="130.3" height="84.70000000000002"/></clipPath>
<clipPath id="ce2"><rect x="246.0" y="330.0" width="130.3" height="84.30000000000001"/></clipPath>
<g clip-path="url(#ce1)">
<polyline points="246.1,307.3 248.9,316.1 251.9,315.5 254.9,306.1 257.7,306.1 260.7,316.1 263.3,311.7 265.9,295.5 268.6,297.3 271.2,293.8 273.8,287.1 277.1,252.8 279.1,288.9 282.2,311.3 285.2,304.6 287.9,310.8 290.5,316.9 293.1,312.5 296.3,303.8" fill="none" stroke="#4fb4be" stroke-width="2.3" stroke-linejoin="round" stroke-linecap="round"/>
<polyline points="303.6,315.6 307.1,311.8 309.7,319.7 312.2,312.5 314.9,313.9 317.9,314.5 320.4,300.8 323.5,300.8 326,312.1 328.6,315.6 331.3,312.5 334.2,313.3 337.1,316.4 339.5,313.3 342.1,299.6 344.7,319.1 347.6,320.3 350,312.1 352.9,306.6 355.5,317.1 358.1,314.8 361.1,313.3 364,310.1 366.9,312.1 369.5,318.3 372.2,315.6 375.1,314.8 376.3,314.6" fill="none" stroke="#4fb4be" stroke-width="2.3" stroke-linejoin="round" stroke-linecap="round"/>
</g>
<g clip-path="url(#ce2)">
<polyline points="247,392.6 249.8,389.7 252.6,389.7 255.2,397.2 258,392.3 260.8,388 263.4,400 266.2,391.8 269,398.9 271.6,384.4 274.4,378.2 276.9,379.1 279.9,395.1 282.7,384.1 285.1,391 287.6,385.7 290.4,397.2 293.3,398.4 296.3,392.6" fill="none" stroke="#93d8dc" stroke-width="2.2" stroke-linejoin="round" stroke-linecap="round"/>
<polyline points="304.1,391.3 306.9,379.5 309.5,360.6 312.3,395.9 315.1,386.1 317.8,397.6 320.6,389 323.4,392.3 326,346.3 328.8,369.6 331.3,366 334.2,382.4 337,383.1 339.5,406.6 341.9,411.5 344.7,380.3 347.7,392.3 350.2,386.1 353,377.5 355.6,344.6 358.4,344.6 361.2,349.9 364.1,372.9 366.6,396.7 369.4,392.3 372,401.2 375.3,395.1 376.3,394" fill="none" stroke="#93d8dc" stroke-width="2.2" stroke-linejoin="round" stroke-linecap="round"/>
</g>
<rect x="246" y="237.6" width="130.3" height="83.7" fill="none" stroke="#1a1a1a" stroke-width="1.1"/>
<rect x="246" y="330" width="130.3" height="83.3" fill="none" stroke="#1a1a1a" stroke-width="1.1"/>
<text transform="translate(250.4,250.5) scale(1,1.03)" font-size="11.7" text-anchor="start" fill="#1e1e1e" stroke="#1e1e1e" stroke-width="0.25">ESI-</text>
<text transform="translate(368.7,251.5) scale(1,1.05)" font-size="11.6" text-anchor="end" fill="#1e1e1e" stroke="#1e1e1e" stroke-width="0.25">C<tspan font-size="8.12" dy="2.55">9</tspan><tspan dy="-2.55">H</tspan><tspan font-size="8.12" dy="2.55">9</tspan><tspan dy="-2.55">O</tspan><tspan font-size="8.12" dy="2.55">3</tspan><tspan dy="-2.55">N</tspan></text>
<line x1="299.1" y1="263.7" x2="323.6" y2="263.7" stroke="#4fb4be" stroke-width="2.3" stroke-linecap="round"/>
<line x1="299.1" y1="277.4" x2="323.6" y2="277.4" stroke="#93d8dc" stroke-width="2.3" stroke-linecap="round"/>
<text transform="translate(329.8,266.8) scale(1,1.08)" font-size="11" text-anchor="start" fill="#1e1e1e" stroke="#1e1e1e" stroke-width="0.25">isomer 1</text>
<text transform="translate(329.8,280.6) scale(1,1.08)" font-size="11" text-anchor="start" fill="#1e1e1e" stroke="#1e1e1e" stroke-width="0.25">isomer 2</text>
<text transform="translate(246.4,235.4) scale(1,1.1)" font-size="11.2" text-anchor="start" fill="#1e1e1e" stroke="#1e1e1e" stroke-width="0.25">&#215;10<tspan font-size="8" dy="-4.4">6</tspan></text>
<text transform="translate(208.1,325.7) rotate(-90) scale(1,1.06)" font-size="14.2" text-anchor="middle" fill="#1e1e1e" stroke="#1e1e1e" stroke-width="0.25">Peak area</text>
<text transform="translate(252.4,430.4) rotate(-27)" font-size="11.1" text-anchor="end" fill="#1e1e1e" stroke="#1e1e1e" stroke-width="0.25">1/13</text>
<text transform="translate(274,430.4) rotate(-27)" font-size="11.1" text-anchor="end" fill="#1e1e1e" stroke="#1e1e1e" stroke-width="0.25">1/15</text>
<text transform="translate(295.6,430.4) rotate(-27)" font-size="11.1" text-anchor="end" fill="#1e1e1e" stroke="#1e1e1e" stroke-width="0.25">1/17</text>
<text transform="translate(317.2,430.4) rotate(-27)" font-size="11.1" text-anchor="end" fill="#1e1e1e" stroke="#1e1e1e" stroke-width="0.25">1/19</text>
<text transform="translate(338.8,430.4) rotate(-27)" font-size="11.1" text-anchor="end" fill="#1e1e1e" stroke="#1e1e1e" stroke-width="0.25">1/21</text>
<text transform="translate(360.4,430.4) rotate(-27)" font-size="11.1" text-anchor="end" fill="#1e1e1e" stroke="#1e1e1e" stroke-width="0.25">1/23</text>
<text transform="translate(311.2,454.9) scale(1,1.05)" font-size="12.2" text-anchor="middle" fill="#1e1e1e" stroke="#1e1e1e" stroke-width="0.25">Date</text>
<text transform="translate(382.3,16.9)" font-size="12" text-anchor="start" fill="#1e1e1e" stroke="#1e1e1e" stroke-width="0.25">(c)</text>
<line x1="419.4" y1="97.8" x2="422.8" y2="97.8" stroke="#1a1a1a" stroke-width="1" />
<text transform="translate(416.2,101.9) scale(1,1.05)" font-size="12" text-anchor="end" fill="#1e1e1e" stroke="#1e1e1e" stroke-width="0.25">0</text>
<line x1="421.1" y1="90.86" x2="422.8" y2="90.86" stroke="#1a1a1a" stroke-width="1" />
<line x1="419.4" y1="83.92" x2="422.8" y2="83.92" stroke="#1a1a1a" stroke-width="1" />
<text transform="translate(416.2,88.02) scale(1,1.05)" font-size="12" text-anchor="end" fill="#1e1e1e" stroke="#1e1e1e" stroke-width="0.25">20</text>
<line x1="421.1" y1="76.97" x2="422.8" y2="76.97" stroke="#1a1a1a" stroke-width="1" />
<line x1="419.4" y1="70.03" x2="422.8" y2="70.03" stroke="#1a1a1a" stroke-width="1" />
<text transform="translate(416.2,74.13) scale(1,1.05)" font-size="12" text-anchor="end" fill="#1e1e1e" stroke="#1e1e1e" stroke-width="0.25">40</text>
<line x1="421.1" y1="63.09" x2="422.8" y2="63.09" stroke="#1a1a1a" stroke-width="1" />
<line x1="419.4" y1="56.15" x2="422.8" y2="56.15" stroke="#1a1a1a" stroke-width="1" />
<text transform="translate(416.2,60.25) scale(1,1.05)" font-size="12" text-anchor="end" fill="#1e1e1e" stroke="#1e1e1e" stroke-width="0.25">60</text>
<line x1="421.1" y1="49.21" x2="422.8" y2="49.21" stroke="#1a1a1a" stroke-width="1" />
<line x1="419.4" y1="42.27" x2="422.8" y2="42.27" stroke="#1a1a1a" stroke-width="1" />
<text transform="translate(416.2,46.37) scale(1,1.05)" font-size="12" text-anchor="end" fill="#1e1e1e" stroke="#1e1e1e" stroke-width="0.25">80</text>
<line x1="421.1" y1="35.33" x2="422.8" y2="35.33" stroke="#1a1a1a" stroke-width="1" />
<line x1="419.4" y1="28.38" x2="422.8" y2="28.38" stroke="#1a1a1a" stroke-width="1" />
<text transform="translate(416.2,32.48) scale(1,1.05)" font-size="12" text-anchor="end" fill="#1e1e1e" stroke="#1e1e1e" stroke-width="0.25">100</text>
<line x1="422.8" y1="97.8" x2="422.8" y2="100.4" stroke="#1a1a1a" stroke-width="1" />
<line x1="430.93" y1="97.8" x2="430.93" y2="100.4" stroke="#1a1a1a" stroke-width="1" />
<line x1="439.05" y1="97.8" x2="439.05" y2="102.9" stroke="#1a1a1a" stroke-width="1" />
<line x1="447.18" y1="97.8" x2="447.18" y2="100.4" stroke="#1a1a1a" stroke-width="1" />
<line x1="455.3" y1="97.8" x2="455.3" y2="100.4" stroke="#1a1a1a" stroke-width="1" />
<line x1="463.43" y1="97.8" x2="463.43" y2="100.4" stroke="#1a1a1a" stroke-width="1" />
<line x1="471.55" y1="97.8" x2="471.55" y2="102.9" stroke="#1a1a1a" stroke-width="1" />
<line x1="479.68" y1="97.8" x2="479.68" y2="100.4" stroke="#1a1a1a" stroke-width="1" />
<line x1="487.8" y1="97.8" x2="487.8" y2="100.4" stroke="#1a1a1a" stroke-width="1" />
<line x1="495.93" y1="97.8" x2="495.93" y2="100.4" stroke="#1a1a1a" stroke-width="1" />
<line x1="504.05" y1="97.8" x2="504.05" y2="102.9" stroke="#1a1a1a" stroke-width="1" />
<line x1="512.17" y1="97.8" x2="512.17" y2="100.4" stroke="#1a1a1a" stroke-width="1" />
<line x1="520.3" y1="97.8" x2="520.3" y2="100.4" stroke="#1a1a1a" stroke-width="1" />
<line x1="528.42" y1="97.8" x2="528.42" y2="100.4" stroke="#1a1a1a" stroke-width="1" />
<line x1="536.55" y1="97.8" x2="536.55" y2="102.9" stroke="#1a1a1a" stroke-width="1" />
<line x1="544.67" y1="97.8" x2="544.67" y2="100.4" stroke="#1a1a1a" stroke-width="1" />
<line x1="552.8" y1="97.8" x2="552.8" y2="100.4" stroke="#1a1a1a" stroke-width="1" />
<line x1="560.92" y1="97.8" x2="560.92" y2="100.4" stroke="#1a1a1a" stroke-width="1" />
<line x1="569.05" y1="97.8" x2="569.05" y2="102.9" stroke="#1a1a1a" stroke-width="1" />
<line x1="577.17" y1="97.8" x2="577.17" y2="100.4" stroke="#1a1a1a" stroke-width="1" />
<line x1="585.3" y1="97.8" x2="585.3" y2="100.4" stroke="#1a1a1a" stroke-width="1" />
<line x1="593.42" y1="97.8" x2="593.42" y2="100.4" stroke="#1a1a1a" stroke-width="1" />
<line x1="601.55" y1="97.8" x2="601.55" y2="102.9" stroke="#1a1a1a" stroke-width="1" />
<line x1="609.67" y1="97.8" x2="609.67" y2="100.4" stroke="#1a1a1a" stroke-width="1" />
<line x1="617.8" y1="97.8" x2="617.8" y2="100.4" stroke="#1a1a1a" stroke-width="1" />
<line x1="625.92" y1="97.8" x2="625.92" y2="100.4" stroke="#1a1a1a" stroke-width="1" />
<line x1="634.05" y1="97.8" x2="634.05" y2="102.9" stroke="#1a1a1a" stroke-width="1" />
<line x1="642.17" y1="97.8" x2="642.17" y2="100.4" stroke="#1a1a1a" stroke-width="1" />
<line x1="650.3" y1="97.8" x2="650.3" y2="100.4" stroke="#1a1a1a" stroke-width="1" />
<line x1="658.42" y1="97.8" x2="658.42" y2="100.4" stroke="#1a1a1a" stroke-width="1" />
<line x1="666.55" y1="97.8" x2="666.55" y2="102.9" stroke="#1a1a1a" stroke-width="1" />
<line x1="674.67" y1="97.8" x2="674.67" y2="100.4" stroke="#1a1a1a" stroke-width="1" />
<line x1="682.8" y1="97.8" x2="682.8" y2="100.4" stroke="#1a1a1a" stroke-width="1" />
<rect x="422.8" y="14.5" width="260" height="83.3" fill="none" stroke="#1a1a1a" stroke-width="1.1"/>
<line x1="419.4" y1="192.8" x2="422.8" y2="192.8" stroke="#1a1a1a" stroke-width="1" />
<text transform="translate(416.2,196.9) scale(1,1.05)" font-size="12" text-anchor="end" fill="#1e1e1e" stroke="#1e1e1e" stroke-width="0.25">0</text>
<line x1="421.1" y1="185.83" x2="422.8" y2="185.83" stroke="#1a1a1a" stroke-width="1" />
<line x1="419.4" y1="178.87" x2="422.8" y2="178.87" stroke="#1a1a1a" stroke-width="1" />
<text transform="translate(416.2,182.97) scale(1,1.05)" font-size="12" text-anchor="end" fill="#1e1e1e" stroke="#1e1e1e" stroke-width="0.25">20</text>
<line x1="421.1" y1="171.9" x2="422.8" y2="171.9" stroke="#1a1a1a" stroke-width="1" />
<line x1="419.4" y1="164.93" x2="422.8" y2="164.93" stroke="#1a1a1a" stroke-width="1" />
<text transform="translate(416.2,169.03) scale(1,1.05)" font-size="12" text-anchor="end" fill="#1e1e1e" stroke="#1e1e1e" stroke-width="0.25">40</text>
<line x1="421.1" y1="157.97" x2="422.8" y2="157.97" stroke="#1a1a1a" stroke-width="1" />
<line x1="419.4" y1="151" x2="422.8" y2="151" stroke="#1a1a1a" stroke-width="1" />
<text transform="translate(416.2,155.1) scale(1,1.05)" font-size="12" text-anchor="end" fill="#1e1e1e" stroke="#1e1e1e" stroke-width="0.25">60</text>
<line x1="421.1" y1="144.03" x2="422.8" y2="144.03" stroke="#1a1a1a" stroke-width="1" />
<line x1="419.4" y1="137.07" x2="422.8" y2="137.07" stroke="#1a1a1a" stroke-width="1" />
<text transform="translate(416.2,141.17) scale(1,1.05)" font-size="12" text-anchor="end" fill="#1e1e1e" stroke="#1e1e1e" stroke-width="0.25">80</text>
<line x1="421.1" y1="130.1" x2="422.8" y2="130.1" stroke="#1a1a1a" stroke-width="1" />
<line x1="419.4" y1="123.13" x2="422.8" y2="123.13" stroke="#1a1a1a" stroke-width="1" />
<text transform="translate(416.2,127.23) scale(1,1.05)" font-size="12" text-anchor="end" fill="#1e1e1e" stroke="#1e1e1e" stroke-width="0.25">100</text>
<line x1="422.8" y1="192.8" x2="422.8" y2="195.4" stroke="#1a1a1a" stroke-width="1" />
<line x1="430.93" y1="192.8" x2="430.93" y2="195.4" stroke="#1a1a1a" stroke-width="1" />
<line x1="439.05" y1="192.8" x2="439.05" y2="197.9" stroke="#1a1a1a" stroke-width="1" />
<text transform="translate(439.05,211.2) scale(1,1.05)" font-size="11.8" text-anchor="middle" fill="#1e1e1e" stroke="#1e1e1e" stroke-width="0.25">60</text>
<line x1="447.18" y1="192.8" x2="447.18" y2="195.4" stroke="#1a1a1a" stroke-width="1" />
<line x1="455.3" y1="192.8" x2="455.3" y2="195.4" stroke="#1a1a1a" stroke-width="1" />
<line x1="463.43" y1="192.8" x2="463.43" y2="195.4" stroke="#1a1a1a" stroke-width="1" />
<line x1="471.55" y1="192.8" x2="471.55" y2="197.9" stroke="#1a1a1a" stroke-width="1" />
<text transform="translate(471.55,211.2) scale(1,1.05)" font-size="11.8" text-anchor="middle" fill="#1e1e1e" stroke="#1e1e1e" stroke-width="0.25">80</text>
<line x1="479.68" y1="192.8" x2="479.68" y2="195.4" stroke="#1a1a1a" stroke-width="1" />
<line x1="487.8" y1="192.8" x2="487.8" y2="195.4" stroke="#1a1a1a" stroke-width="1" />
<line x1="495.93" y1="192.8" x2="495.93" y2="195.4" stroke="#1a1a1a" stroke-width="1" />
<line x1="504.05" y1="192.8" x2="504.05" y2="197.9" stroke="#1a1a1a" stroke-width="1" />
<text transform="translate(504.05,211.2) scale(1,1.05)" font-size="11.8" text-anchor="middle" fill="#1e1e1e" stroke="#1e1e1e" stroke-width="0.25">100</text>
<line x1="512.17" y1="192.8" x2="512.17" y2="195.4" stroke="#1a1a1a" stroke-width="1" />
<line x1="520.3" y1="192.8" x2="520.3" y2="195.4" stroke="#1a1a1a" stroke-width="1" />
<line x1="528.42" y1="192.8" x2="528.42" y2="195.4" stroke="#1a1a1a" stroke-width="1" />
<line x1="536.55" y1="192.8" x2="536.55" y2="197.9" stroke="#1a1a1a" stroke-width="1" />
<text transform="translate(536.55,211.2) scale(1,1.05)" font-size="11.8" text-anchor="middle" fill="#1e1e1e" stroke="#1e1e1e" stroke-width="0.25">120</text>
<line x1="544.67" y1="192.8" x2="544.67" y2="195.4" stroke="#1a1a1a" stroke-width="1" />
<line x1="552.8" y1="192.8" x2="552.8" y2="195.4" stroke="#1a1a1a" stroke-width="1" />
<line x1="560.92" y1="192.8" x2="560.92" y2="195.4" stroke="#1a1a1a" stroke-width="1" />
<line x1="569.05" y1="192.8" x2="569.05" y2="197.9" stroke="#1a1a1a" stroke-width="1" />
<text transform="translate(569.05,211.2) scale(1,1.05)" font-size="11.8" text-anchor="middle" fill="#1e1e1e" stroke="#1e1e1e" stroke-width="0.25">140</text>
<line x1="577.17" y1="192.8" x2="577.17" y2="195.4" stroke="#1a1a1a" stroke-width="1" />
<line x1="585.3" y1="192.8" x2="585.3" y2="195.4" stroke="#1a1a1a" stroke-width="1" />
<line x1="593.42" y1="192.8" x2="593.42" y2="195.4" stroke="#1a1a1a" stroke-width="1" />
<line x1="601.55" y1="192.8" x2="601.55" y2="197.9" stroke="#1a1a1a" stroke-width="1" />
<text transform="translate(601.55,211.2) scale(1,1.05)" font-size="11.8" text-anchor="middle" fill="#1e1e1e" stroke="#1e1e1e" stroke-width="0.25">160</text>
<line x1="609.67" y1="192.8" x2="609.67" y2="195.4" stroke="#1a1a1a" stroke-width="1" />
<line x1="617.8" y1="192.8" x2="617.8" y2="195.4" stroke="#1a1a1a" stroke-width="1" />
<line x1="625.92" y1="192.8" x2="625.92" y2="195.4" stroke="#1a1a1a" stroke-width="1" />
<line x1="634.05" y1="192.8" x2="634.05" y2="197.9" stroke="#1a1a1a" stroke-width="1" />
<text transform="translate(634.05,211.2) scale(1,1.05)" font-size="11.8" text-anchor="middle" fill="#1e1e1e" stroke="#1e1e1e" stroke-width="0.25">180</text>
<line x1="642.17" y1="192.8" x2="642.17" y2="195.4" stroke="#1a1a1a" stroke-width="1" />
<line x1="650.3" y1="192.8" x2="650.3" y2="195.4" stroke="#1a1a1a" stroke-width="1" />
<line x1="658.42" y1="192.8" x2="658.42" y2="195.4" stroke="#1a1a1a" stroke-width="1" />
<line x1="666.55" y1="192.8" x2="666.55" y2="197.9" stroke="#1a1a1a" stroke-width="1" />
<text transform="translate(666.55,211.2) scale(1,1.05)" font-size="11.8" text-anchor="middle" fill="#1e1e1e" stroke="#1e1e1e" stroke-width="0.25">200</text>
<line x1="674.67" y1="192.8" x2="674.67" y2="195.4" stroke="#1a1a1a" stroke-width="1" />
<line x1="682.8" y1="192.8" x2="682.8" y2="195.4" stroke="#1a1a1a" stroke-width="1" />
<rect x="422.8" y="109.2" width="260" height="83.6" fill="none" stroke="#1a1a1a" stroke-width="1.1"/>
<text transform="translate(557.8,227) scale(1,1.05)" font-size="12" text-anchor="middle" fill="#1e1e1e" stroke="#1e1e1e" stroke-width="0.25">m/z (Da)</text>
<text transform="translate(391,108.2) rotate(-90) scale(1,1.08)" font-size="13.15" text-anchor="middle" fill="#1e1e1e" stroke="#1e1e1e" stroke-width="0.25">Relative Abundance (%)</text>
<line x1="496.5" y1="18" x2="496.5" y2="97.8" stroke="#555" stroke-width="1" stroke-dasharray="1 3"/>
<line x1="559.5" y1="18" x2="559.5" y2="97.8" stroke="#555" stroke-width="1" stroke-dasharray="1 3"/>
<line x1="605.5" y1="18" x2="605.5" y2="97.8" stroke="#555" stroke-width="1" stroke-dasharray="1 3"/>
<line x1="673.7" y1="97.8" x2="673.7" y2="28.4" stroke="#555" stroke-width="1.3" />
<line x1="675.8" y1="97.8" x2="675.8" y2="82" stroke="#555" stroke-width="1.2" />
<line x1="514" y1="97.8" x2="514" y2="72" stroke="#555" stroke-width="1.3" />
<line x1="642.2" y1="97.8" x2="642.2" y2="94.8" stroke="#555" stroke-width="1" />
<line x1="502.4" y1="35" x2="673.7" y2="35" stroke="#5d94cb" stroke-width="1.45" />
<path d="M496.2 35L504.6 32.6L504.1 35L504.6 37.4Z" fill="#2f6db3"/>
<line x1="612" y1="55" x2="673.7" y2="55" stroke="#5d94cb" stroke-width="1.45" />
<path d="M605.8 55L614.2 52.6L613.7 55L614.2 57.4Z" fill="#2f6db3"/>
<line x1="565.5" y1="55" x2="606" y2="55" stroke="#5d94cb" stroke-width="1.45" />
<path d="M559.3 55L567.7 52.6L567.2 55L567.7 57.4Z" fill="#2f6db3"/>
<line x1="520.3" y1="82" x2="559.5" y2="82" stroke="#5d94cb" stroke-width="1.45" />
<path d="M514.1 82L522.5 79.6L522 82L522.5 84.4Z" fill="#2f6db3"/>
<text transform="translate(562.9,32.4) scale(1,1.03)" font-size="10.95" text-anchor="start" fill="#3d7bbf" stroke="#3d7bbf" stroke-width="0.18">-109Da</text>
<text transform="translate(627,51.6) scale(1,1.03)" font-size="10.95" text-anchor="start" fill="#3d7bbf" stroke="#3d7bbf" stroke-width="0.18">-C<tspan font-size="7.66" dy="2.41">2</tspan><tspan dy="-2.41">H</tspan><tspan font-size="7.66" dy="2.41">2</tspan><tspan dy="-2.41">O</tspan></text>
<text transform="translate(573.6,51.6) scale(1,1.03)" font-size="10.95" text-anchor="start" fill="#3d7bbf" stroke="#3d7bbf" stroke-width="0.18">-C<tspan font-size="7.66" dy="2.41">2</tspan><tspan dy="-2.41">H</tspan><tspan font-size="7.66" dy="2.41">4</tspan></text>
<text transform="translate(525,77.1) scale(1,1.03)" font-size="10.95" text-anchor="start" fill="#3d7bbf" stroke="#3d7bbf" stroke-width="0.18">-C<tspan font-size="7.66" dy="2.41">2</tspan><tspan dy="-2.41">H</tspan><tspan font-size="7.66" dy="2.41">4</tspan></text>
<text transform="translate(672.3,25.9) scale(1,1.04)" font-size="11.4" text-anchor="middle" fill="#de2e2e" stroke="#de2e2e" stroke-width="0.18">204</text>
<text transform="translate(514.4,71.1) scale(1,1.04)" font-size="11.4" text-anchor="middle" fill="#de2e2e" stroke="#de2e2e" stroke-width="0.18">106</text>
<text transform="translate(496.2,94.9) scale(1,1.04)" font-size="11.4" text-anchor="middle" fill="#de2e2e" stroke="#de2e2e" stroke-width="0.18">95</text>
<text transform="translate(560.4,94.9) scale(1,1.04)" font-size="11.4" text-anchor="middle" fill="#de2e2e" stroke="#de2e2e" stroke-width="0.18">134</text>
<text transform="translate(605.3,95.2) scale(1,1.04)" font-size="11.4" text-anchor="middle" fill="#de2e2e" stroke="#de2e2e" stroke-width="0.18">162</text>
<line x1="473.5" y1="113" x2="473.5" y2="192.8" stroke="#555" stroke-width="1" stroke-dasharray="1 3"/>
<line x1="495.5" y1="113" x2="495.5" y2="192.8" stroke="#555" stroke-width="1" stroke-dasharray="1 3"/>
<line x1="649.5" y1="113" x2="649.5" y2="192.8" stroke="#555" stroke-width="1" stroke-dasharray="1 3"/>
<line x1="673.5" y1="192.8" x2="673.5" y2="123.2" stroke="#555" stroke-width="1.3" />
<line x1="675.5" y1="192.8" x2="675.5" y2="182" stroke="#555" stroke-width="1.2" />
<line x1="655.5" y1="145.5" x2="673.5" y2="145.5" stroke="#5d94cb" stroke-width="1.45" />
<path d="M649.3 145.5L657.7 143.1L657.2 145.5L657.7 147.9Z" fill="#2f6db3"/>
<line x1="502" y1="166.4" x2="673.5" y2="166.4" stroke="#5d94cb" stroke-width="1.45" />
<path d="M495.8 166.4L504.2 164L503.7 166.4L504.2 168.8Z" fill="#2f6db3"/>
<line x1="479.4" y1="166.4" x2="496" y2="166.4" stroke="#5d94cb" stroke-width="1.45" />
<path d="M473.2 166.4L481.6 164L481.1 166.4L481.6 168.8Z" fill="#2f6db3"/>
<text transform="translate(646.2,140) scale(1,1.03)" font-size="10.95" text-anchor="start" fill="#3d7bbf" stroke="#3d7bbf" stroke-width="0.18">-&#183;CH<tspan font-size="7.66" dy="2.41">3</tspan></text>
<text transform="translate(569,164.2) scale(1,1.03)" font-size="10.95" text-anchor="start" fill="#3d7bbf" stroke="#3d7bbf" stroke-width="0.18">-109Da</text>
<text transform="translate(473.8,162.8) scale(1,1.03)" font-size="10.95" text-anchor="start" fill="#3d7bbf" stroke="#3d7bbf" stroke-width="0.18">-CH<tspan font-size="7.66" dy="2.41">2</tspan></text>
<text transform="translate(673,121.7) scale(1,1.04)" font-size="11.4" text-anchor="middle" fill="#de2e2e" stroke="#de2e2e" stroke-width="0.18">204</text>
<text transform="translate(473.1,190.8) scale(1,1.04)" font-size="11.4" text-anchor="middle" fill="#de2e2e" stroke="#de2e2e" stroke-width="0.18">81</text>
<text transform="translate(496.2,190.8) scale(1,1.04)" font-size="11.4" text-anchor="middle" fill="#de2e2e" stroke="#de2e2e" stroke-width="0.18">95</text>
<text transform="translate(649.8,189.9) scale(1,1.04)" font-size="11.4" text-anchor="middle" fill="#de2e2e" stroke="#de2e2e" stroke-width="0.18">189</text>
<text transform="translate(382.3,234.7)" font-size="12" text-anchor="start" fill="#1e1e1e" stroke="#1e1e1e" stroke-width="0.25">(f)</text>
<line x1="419.4" y1="321.2" x2="422.8" y2="321.2" stroke="#1a1a1a" stroke-width="1" />
<text transform="translate(416.2,325.3) scale(1,1.05)" font-size="12" text-anchor="end" fill="#1e1e1e" stroke="#1e1e1e" stroke-width="0.25">0</text>
<line x1="421.1" y1="314.26" x2="422.8" y2="314.26" stroke="#1a1a1a" stroke-width="1" />
<line x1="419.4" y1="307.32" x2="422.8" y2="307.32" stroke="#1a1a1a" stroke-width="1" />
<text transform="translate(416.2,311.42) scale(1,1.05)" font-size="12" text-anchor="end" fill="#1e1e1e" stroke="#1e1e1e" stroke-width="0.25">20</text>
<line x1="421.1" y1="300.38" x2="422.8" y2="300.38" stroke="#1a1a1a" stroke-width="1" />
<line x1="419.4" y1="293.43" x2="422.8" y2="293.43" stroke="#1a1a1a" stroke-width="1" />
<text transform="translate(416.2,297.53) scale(1,1.05)" font-size="12" text-anchor="end" fill="#1e1e1e" stroke="#1e1e1e" stroke-width="0.25">40</text>
<line x1="421.1" y1="286.49" x2="422.8" y2="286.49" stroke="#1a1a1a" stroke-width="1" />
<line x1="419.4" y1="279.55" x2="422.8" y2="279.55" stroke="#1a1a1a" stroke-width="1" />
<text transform="translate(416.2,283.65) scale(1,1.05)" font-size="12" text-anchor="end" fill="#1e1e1e" stroke="#1e1e1e" stroke-width="0.25">60</text>
<line x1="421.1" y1="272.61" x2="422.8" y2="272.61" stroke="#1a1a1a" stroke-width="1" />
<line x1="419.4" y1="265.67" x2="422.8" y2="265.67" stroke="#1a1a1a" stroke-width="1" />
<text transform="translate(416.2,269.77) scale(1,1.05)" font-size="12" text-anchor="end" fill="#1e1e1e" stroke="#1e1e1e" stroke-width="0.25">80</text>
<line x1="421.1" y1="258.73" x2="422.8" y2="258.73" stroke="#1a1a1a" stroke-width="1" />
<line x1="419.4" y1="251.78" x2="422.8" y2="251.78" stroke="#1a1a1a" stroke-width="1" />
<text transform="translate(416.2,255.88) scale(1,1.05)" font-size="12" text-anchor="end" fill="#1e1e1e" stroke="#1e1e1e" stroke-width="0.25">100</text>
<line x1="422.8" y1="321.2" x2="422.8" y2="323.8" stroke="#1a1a1a" stroke-width="1" />
<line x1="430.93" y1="321.2" x2="430.93" y2="323.8" stroke="#1a1a1a" stroke-width="1" />
<line x1="439.05" y1="321.2" x2="439.05" y2="326.3" stroke="#1a1a1a" stroke-width="1" />
<line x1="447.18" y1="321.2" x2="447.18" y2="323.8" stroke="#1a1a1a" stroke-width="1" />
<line x1="455.3" y1="321.2" x2="455.3" y2="323.8" stroke="#1a1a1a" stroke-width="1" />
<line x1="463.43" y1="321.2" x2="463.43" y2="323.8" stroke="#1a1a1a" stroke-width="1" />
<line x1="471.55" y1="321.2" x2="471.55" y2="326.3" stroke="#1a1a1a" stroke-width="1" />
<line x1="479.68" y1="321.2" x2="479.68" y2="323.8" stroke="#1a1a1a" stroke-width="1" />
<line x1="487.8" y1="321.2" x2="487.8" y2="323.8" stroke="#1a1a1a" stroke-width="1" />
<line x1="495.93" y1="321.2" x2="495.93" y2="323.8" stroke="#1a1a1a" stroke-width="1" />
<line x1="504.05" y1="321.2" x2="504.05" y2="326.3" stroke="#1a1a1a" stroke-width="1" />
<line x1="512.17" y1="321.2" x2="512.17" y2="323.8" stroke="#1a1a1a" stroke-width="1" />
<line x1="520.3" y1="321.2" x2="520.3" y2="323.8" stroke="#1a1a1a" stroke-width="1" />
<line x1="528.42" y1="321.2" x2="528.42" y2="323.8" stroke="#1a1a1a" stroke-width="1" />
<line x1="536.55" y1="321.2" x2="536.55" y2="326.3" stroke="#1a1a1a" stroke-width="1" />
<line x1="544.67" y1="321.2" x2="544.67" y2="323.8" stroke="#1a1a1a" stroke-width="1" />
<line x1="552.8" y1="321.2" x2="552.8" y2="323.8" stroke="#1a1a1a" stroke-width="1" />
<line x1="560.92" y1="321.2" x2="560.92" y2="323.8" stroke="#1a1a1a" stroke-width="1" />
<line x1="569.05" y1="321.2" x2="569.05" y2="326.3" stroke="#1a1a1a" stroke-width="1" />
<line x1="577.17" y1="321.2" x2="577.17" y2="323.8" stroke="#1a1a1a" stroke-width="1" />
<line x1="585.3" y1="321.2" x2="585.3" y2="323.8" stroke="#1a1a1a" stroke-width="1" />
<line x1="593.42" y1="321.2" x2="593.42" y2="323.8" stroke="#1a1a1a" stroke-width="1" />
<line x1="601.55" y1="321.2" x2="601.55" y2="326.3" stroke="#1a1a1a" stroke-width="1" />
<line x1="609.67" y1="321.2" x2="609.67" y2="323.8" stroke="#1a1a1a" stroke-width="1" />
<line x1="617.8" y1="321.2" x2="617.8" y2="323.8" stroke="#1a1a1a" stroke-width="1" />
<line x1="625.92" y1="321.2" x2="625.92" y2="323.8" stroke="#1a1a1a" stroke-width="1" />
<line x1="634.05" y1="321.2" x2="634.05" y2="326.3" stroke="#1a1a1a" stroke-width="1" />
<line x1="642.17" y1="321.2" x2="642.17" y2="323.8" stroke="#1a1a1a" stroke-width="1" />
<line x1="650.3" y1="321.2" x2="650.3" y2="323.8" stroke="#1a1a1a" stroke-width="1" />
<line x1="658.42" y1="321.2" x2="658.42" y2="323.8" stroke="#1a1a1a" stroke-width="1" />
<line x1="666.55" y1="321.2" x2="666.55" y2="326.3" stroke="#1a1a1a" stroke-width="1" />
<line x1="674.67" y1="321.2" x2="674.67" y2="323.8" stroke="#1a1a1a" stroke-width="1" />
<line x1="682.8" y1="321.2" x2="682.8" y2="323.8" stroke="#1a1a1a" stroke-width="1" />
<rect x="422.8" y="237.9" width="260" height="83.3" fill="none" stroke="#1a1a1a" stroke-width="1.1"/>
<line x1="419.4" y1="413.4" x2="422.8" y2="413.4" stroke="#1a1a1a" stroke-width="1" />
<text transform="translate(416.2,417.5) scale(1,1.05)" font-size="12" text-anchor="end" fill="#1e1e1e" stroke="#1e1e1e" stroke-width="0.25">0</text>
<line x1="421.1" y1="406.47" x2="422.8" y2="406.47" stroke="#1a1a1a" stroke-width="1" />
<line x1="419.4" y1="399.53" x2="422.8" y2="399.53" stroke="#1a1a1a" stroke-width="1" />
<text transform="translate(416.2,403.63) scale(1,1.05)" font-size="12" text-anchor="end" fill="#1e1e1e" stroke="#1e1e1e" stroke-width="0.25">20</text>
<line x1="421.1" y1="392.6" x2="422.8" y2="392.6" stroke="#1a1a1a" stroke-width="1" />
<line x1="419.4" y1="385.67" x2="422.8" y2="385.67" stroke="#1a1a1a" stroke-width="1" />
<text transform="translate(416.2,389.77) scale(1,1.05)" font-size="12" text-anchor="end" fill="#1e1e1e" stroke="#1e1e1e" stroke-width="0.25">40</text>
<line x1="421.1" y1="378.73" x2="422.8" y2="378.73" stroke="#1a1a1a" stroke-width="1" />
<line x1="419.4" y1="371.8" x2="422.8" y2="371.8" stroke="#1a1a1a" stroke-width="1" />
<text transform="translate(416.2,375.9) scale(1,1.05)" font-size="12" text-anchor="end" fill="#1e1e1e" stroke="#1e1e1e" stroke-width="0.25">60</text>
<line x1="421.1" y1="364.87" x2="422.8" y2="364.87" stroke="#1a1a1a" stroke-width="1" />
<line x1="419.4" y1="357.93" x2="422.8" y2="357.93" stroke="#1a1a1a" stroke-width="1" />
<text transform="translate(416.2,362.03) scale(1,1.05)" font-size="12" text-anchor="end" fill="#1e1e1e" stroke="#1e1e1e" stroke-width="0.25">80</text>
<line x1="421.1" y1="351" x2="422.8" y2="351" stroke="#1a1a1a" stroke-width="1" />
<line x1="419.4" y1="344.07" x2="422.8" y2="344.07" stroke="#1a1a1a" stroke-width="1" />
<text transform="translate(416.2,348.17) scale(1,1.05)" font-size="12" text-anchor="end" fill="#1e1e1e" stroke="#1e1e1e" stroke-width="0.25">100</text>
<line x1="422.8" y1="413.4" x2="422.8" y2="416" stroke="#1a1a1a" stroke-width="1" />
<line x1="430.93" y1="413.4" x2="430.93" y2="416" stroke="#1a1a1a" stroke-width="1" />
<line x1="439.05" y1="413.4" x2="439.05" y2="418.5" stroke="#1a1a1a" stroke-width="1" />
<text transform="translate(439.05,431.8) scale(1,1.05)" font-size="11.8" text-anchor="middle" fill="#1e1e1e" stroke="#1e1e1e" stroke-width="0.25">60</text>
<line x1="447.18" y1="413.4" x2="447.18" y2="416" stroke="#1a1a1a" stroke-width="1" />
<line x1="455.3" y1="413.4" x2="455.3" y2="416" stroke="#1a1a1a" stroke-width="1" />
<line x1="463.43" y1="413.4" x2="463.43" y2="416" stroke="#1a1a1a" stroke-width="1" />
<line x1="471.55" y1="413.4" x2="471.55" y2="418.5" stroke="#1a1a1a" stroke-width="1" />
<text transform="translate(471.55,431.8) scale(1,1.05)" font-size="11.8" text-anchor="middle" fill="#1e1e1e" stroke="#1e1e1e" stroke-width="0.25">80</text>
<line x1="479.68" y1="413.4" x2="479.68" y2="416" stroke="#1a1a1a" stroke-width="1" />
<line x1="487.8" y1="413.4" x2="487.8" y2="416" stroke="#1a1a1a" stroke-width="1" />
<line x1="495.93" y1="413.4" x2="495.93" y2="416" stroke="#1a1a1a" stroke-width="1" />
<line x1="504.05" y1="413.4" x2="504.05" y2="418.5" stroke="#1a1a1a" stroke-width="1" />
<text transform="translate(504.05,431.8) scale(1,1.05)" font-size="11.8" text-anchor="middle" fill="#1e1e1e" stroke="#1e1e1e" stroke-width="0.25">100</text>
<line x1="512.17" y1="413.4" x2="512.17" y2="416" stroke="#1a1a1a" stroke-width="1" />
<line x1="520.3" y1="413.4" x2="520.3" y2="416" stroke="#1a1a1a" stroke-width="1" />
<line x1="528.42" y1="413.4" x2="528.42" y2="416" stroke="#1a1a1a" stroke-width="1" />
<line x1="536.55" y1="413.4" x2="536.55" y2="418.5" stroke="#1a1a1a" stroke-width="1" />
<text transform="translate(536.55,431.8) scale(1,1.05)" font-size="11.8" text-anchor="middle" fill="#1e1e1e" stroke="#1e1e1e" stroke-width="0.25">120</text>
<line x1="544.67" y1="413.4" x2="544.67" y2="416" stroke="#1a1a1a" stroke-width="1" />
<line x1="552.8" y1="413.4" x2="552.8" y2="416" stroke="#1a1a1a" stroke-width="1" />
<line x1="560.92" y1="413.4" x2="560.92" y2="416" stroke="#1a1a1a" stroke-width="1" />
<line x1="569.05" y1="413.4" x2="569.05" y2="418.5" stroke="#1a1a1a" stroke-width="1" />
<text transform="translate(569.05,431.8) scale(1,1.05)" font-size="11.8" text-anchor="middle" fill="#1e1e1e" stroke="#1e1e1e" stroke-width="0.25">140</text>
<line x1="577.17" y1="413.4" x2="577.17" y2="416" stroke="#1a1a1a" stroke-width="1" />
<line x1="585.3" y1="413.4" x2="585.3" y2="416" stroke="#1a1a1a" stroke-width="1" />
<line x1="593.42" y1="413.4" x2="593.42" y2="416" stroke="#1a1a1a" stroke-width="1" />
<line x1="601.55" y1="413.4" x2="601.55" y2="418.5" stroke="#1a1a1a" stroke-width="1" />
<text transform="translate(601.55,431.8) scale(1,1.05)" font-size="11.8" text-anchor="middle" fill="#1e1e1e" stroke="#1e1e1e" stroke-width="0.25">160</text>
<line x1="609.67" y1="413.4" x2="609.67" y2="416" stroke="#1a1a1a" stroke-width="1" />
<line x1="617.8" y1="413.4" x2="617.8" y2="416" stroke="#1a1a1a" stroke-width="1" />
<line x1="625.92" y1="413.4" x2="625.92" y2="416" stroke="#1a1a1a" stroke-width="1" />
<line x1="634.05" y1="413.4" x2="634.05" y2="418.5" stroke="#1a1a1a" stroke-width="1" />
<text transform="translate(634.05,431.8) scale(1,1.05)" font-size="11.8" text-anchor="middle" fill="#1e1e1e" stroke="#1e1e1e" stroke-width="0.25">180</text>
<line x1="642.17" y1="413.4" x2="642.17" y2="416" stroke="#1a1a1a" stroke-width="1" />
<line x1="650.3" y1="413.4" x2="650.3" y2="416" stroke="#1a1a1a" stroke-width="1" />
<line x1="658.42" y1="413.4" x2="658.42" y2="416" stroke="#1a1a1a" stroke-width="1" />
<line x1="666.55" y1="413.4" x2="666.55" y2="418.5" stroke="#1a1a1a" stroke-width="1" />
<text transform="translate(666.55,431.8) scale(1,1.05)" font-size="11.8" text-anchor="middle" fill="#1e1e1e" stroke="#1e1e1e" stroke-width="0.25">200</text>
<line x1="674.67" y1="413.4" x2="674.67" y2="416" stroke="#1a1a1a" stroke-width="1" />
<line x1="682.8" y1="413.4" x2="682.8" y2="416" stroke="#1a1a1a" stroke-width="1" />
<rect x="422.8" y="330.2" width="260" height="83.2" fill="none" stroke="#1a1a1a" stroke-width="1.1"/>
<text transform="translate(558,450.8) scale(1,1.05)" font-size="12" text-anchor="middle" fill="#1e1e1e" stroke="#1e1e1e" stroke-width="0.25">m/z (Da)</text>
<text transform="translate(393.9,334.1) rotate(-90) scale(1,1.08)" font-size="13.15" text-anchor="middle" fill="#1e1e1e" stroke="#1e1e1e" stroke-width="0.25">Relative Abundance (%)</text>
<line x1="558.5" y1="241" x2="558.5" y2="321.2" stroke="#555" stroke-width="1" stroke-dasharray="1 3"/>
<line x1="601.5" y1="241" x2="601.5" y2="321.2" stroke="#555" stroke-width="1" stroke-dasharray="1 3"/>
<line x1="631.4" y1="321.2" x2="631.4" y2="251.5" stroke="#111" stroke-width="1.3" />
<line x1="632.8" y1="321.2" x2="632.8" y2="313.3" stroke="#111" stroke-width="1.2" />
<line x1="586.6" y1="321.2" x2="586.6" y2="315.4" stroke="#222" stroke-width="1" />
<line x1="442" y1="321.2" x2="442" y2="318" stroke="#222" stroke-width="1" />
<line x1="583.5" y1="321.2" x2="583.5" y2="318.5" stroke="#222" stroke-width="1" />
<line x1="580.5" y1="321.2" x2="580.5" y2="319" stroke="#222" stroke-width="1" />
<line x1="575" y1="321.2" x2="575" y2="319.2" stroke="#222" stroke-width="1" />
<line x1="570.5" y1="321.2" x2="570.5" y2="319.3" stroke="#222" stroke-width="1" />
<line x1="562" y1="321.2" x2="562" y2="319" stroke="#222" stroke-width="1" />
<line x1="628.5" y1="321.2" x2="628.5" y2="318.6" stroke="#222" stroke-width="1" />
<line x1="492.5" y1="321.2" x2="492.5" y2="319.5" stroke="#222" stroke-width="1" />
<line x1="535.5" y1="321.2" x2="535.5" y2="319.6" stroke="#222" stroke-width="1" />
<line x1="552.5" y1="321.2" x2="552.5" y2="319.3" stroke="#222" stroke-width="1" />
<line x1="607.8" y1="303.3" x2="631.4" y2="303.3" stroke="#5d94cb" stroke-width="1.45" />
<path d="M601.6 303.3L610 300.9L609.5 303.3L610 305.7Z" fill="#2f6db3"/>
<line x1="564" y1="303.3" x2="601.8" y2="303.3" stroke="#5d94cb" stroke-width="1.45" />
<path d="M557.8 303.3L566.2 300.9L565.7 303.3L566.2 305.7Z" fill="#2f6db3"/>
<text transform="translate(565,297.9) scale(1,1.03)" font-size="10.95" text-anchor="start" fill="#3d7bbf" stroke="#3d7bbf" stroke-width="0.18">-HCN</text>
<text transform="translate(602.4,298) scale(1,1.03)" font-size="10.95" text-anchor="start" fill="#3d7bbf" stroke="#3d7bbf" stroke-width="0.18">-H<tspan font-size="7.66" dy="2.41">2</tspan><tspan dy="-2.41">O</tspan></text>
<text transform="translate(631.6,250.9) scale(1,1.04)" font-size="11.4" text-anchor="middle" fill="#de2e2e" stroke="#de2e2e" stroke-width="0.18">178</text>
<text transform="translate(555.8,317.4) scale(1,1.04)" font-size="11.4" text-anchor="middle" fill="#de2e2e" stroke="#de2e2e" stroke-width="0.18">133</text>
<text transform="translate(601.4,317.4) scale(1,1.04)" font-size="11.4" text-anchor="middle" fill="#de2e2e" stroke="#de2e2e" stroke-width="0.18">160</text>
<line x1="437.5" y1="333" x2="437.5" y2="413.4" stroke="#555" stroke-width="1" stroke-dasharray="1 3"/>
<line x1="441.9" y1="413.4" x2="441.9" y2="411" stroke="#222" stroke-width="1" />
<line x1="491.2" y1="413.4" x2="491.2" y2="383.8" stroke="#111" stroke-width="1.3" />
<line x1="515.8" y1="413.4" x2="515.8" y2="366.3" stroke="#111" stroke-width="1.3" />
<line x1="538.1" y1="413.4" x2="538.1" y2="408.3" stroke="#111" stroke-width="1.2" />
<line x1="559.9" y1="413.4" x2="559.9" y2="355.2" stroke="#111" stroke-width="1.3" />
<line x1="561.4" y1="413.4" x2="561.4" y2="343.4" stroke="#111" stroke-width="1.3" />
<line x1="563" y1="413.4" x2="563" y2="383" stroke="#222" stroke-width="2" />
<line x1="631.4" y1="413.4" x2="631.4" y2="368.4" stroke="#111" stroke-width="1.3" />
<line x1="633.1" y1="413.4" x2="633.1" y2="375.4" stroke="#111" stroke-width="1.5" />
<line x1="587" y1="413.4" x2="587" y2="406.5" stroke="#222" stroke-width="1" />
<line x1="629.8" y1="413.4" x2="629.8" y2="405.4" stroke="#222" stroke-width="1" />
<line x1="571.8" y1="413.4" x2="571.8" y2="410.5" stroke="#222" stroke-width="1" />
<line x1="443.7" y1="365.4" x2="561.4" y2="365.4" stroke="#5d94cb" stroke-width="1.45" />
<path d="M437.5 365.4L445.9 363L445.4 365.4L445.9 367.8Z" fill="#2f6db3"/>
<line x1="521.8" y1="381.9" x2="561.4" y2="381.9" stroke="#5d94cb" stroke-width="1.45" />
<path d="M515.6 381.9L524 379.5L523.5 381.9L524 384.3Z" fill="#2f6db3"/>
<line x1="568" y1="381.9" x2="631.4" y2="381.9" stroke="#5d94cb" stroke-width="1.45" />
<path d="M561.8 381.9L570.2 379.5L569.7 381.9L570.2 384.3Z" fill="#2f6db3"/>
<line x1="497.9" y1="395.3" x2="561.4" y2="395.3" stroke="#5d94cb" stroke-width="1.45" />
<path d="M491.7 395.3L500.1 392.9L499.6 395.3L500.1 397.7Z" fill="#2f6db3"/>
<line x1="567.4" y1="395.1" x2="631.4" y2="395.1" stroke="#5d94cb" stroke-width="1.45" />
<path d="M561.2 395.1L569.6 392.7L569.1 395.1L569.6 397.5Z" fill="#2f6db3"/>
<line x1="544.6" y1="409.6" x2="631.4" y2="409.6" stroke="#5d94cb" stroke-width="1.45" />
<path d="M538.4 409.6L546.8 407.2L546.3 409.6L546.8 412Z" fill="#2f6db3"/>
<text transform="translate(469.6,363.5) scale(1,1.03)" font-size="10.95" text-anchor="start" fill="#3d7bbf" stroke="#3d7bbf" stroke-width="0.18">-76Da</text>
<text transform="translate(535,379.6) scale(1,1.03)" font-size="10.95" text-anchor="start" fill="#3d7bbf" stroke="#3d7bbf" stroke-width="0.18">-CO</text>
<text transform="translate(520,390.6) scale(1,1.03)" font-size="10.95" text-anchor="start" fill="#3d7bbf" stroke="#3d7bbf" stroke-width="0.18">-C<tspan font-size="7.66" dy="2.41">2</tspan><tspan dy="-2.41">H</tspan><tspan font-size="7.66" dy="2.41">2</tspan><tspan dy="-2.41">O</tspan></text>
<text transform="translate(588.7,378) scale(1,1.03)" font-size="10.95" text-anchor="start" fill="#3d7bbf" stroke="#3d7bbf" stroke-width="0.18">-CHNO</text>
<text transform="translate(594,391.4) scale(1,1.03)" font-size="10.95" text-anchor="start" fill="#3d7bbf" stroke="#3d7bbf" stroke-width="0.18">-CO<tspan font-size="7.66" dy="2.41">2</tspan></text>
<text transform="translate(580.6,404.6) scale(1,1.03)" font-size="10.95" text-anchor="start" fill="#3d7bbf" stroke="#3d7bbf" stroke-width="0.18">-C<tspan font-size="7.66" dy="2.41">2</tspan><tspan dy="-2.41">H</tspan><tspan font-size="7.66" dy="2.41">3</tspan><tspan dy="-2.41">NO</tspan></text>
<text transform="translate(515.4,363.5) scale(1,1.04)" font-size="11.4" text-anchor="middle" fill="#de2e2e" stroke="#de2e2e" stroke-width="0.18">107</text>
<text transform="translate(491.2,382.3) scale(1,1.04)" font-size="11.4" text-anchor="middle" fill="#de2e2e" stroke="#de2e2e" stroke-width="0.18">92</text>
<text transform="translate(538,407.7) scale(1,1.04)" font-size="11.4" text-anchor="middle" fill="#de2e2e" stroke="#de2e2e" stroke-width="0.18">121</text>
<text transform="translate(561.4,341.5) scale(1,1.04)" font-size="11.4" text-anchor="middle" fill="#de2e2e" stroke="#de2e2e" stroke-width="0.18">135</text>
<text transform="translate(558.5,352.5) scale(1,1.04)" font-size="11.4" text-anchor="middle" fill="#de2e2e" stroke="#de2e2e" stroke-width="0.18">134</text>
<text transform="translate(631.4,367.3) scale(1,1.04)" font-size="11.4" text-anchor="middle" fill="#de2e2e" stroke="#de2e2e" stroke-width="0.18">178</text>
<text transform="translate(437.8,409.4) scale(1,1.04)" font-size="11.4" text-anchor="middle" fill="#de2e2e" stroke="#de2e2e" stroke-width="0.18">59</text>
</svg>
</body></html>
